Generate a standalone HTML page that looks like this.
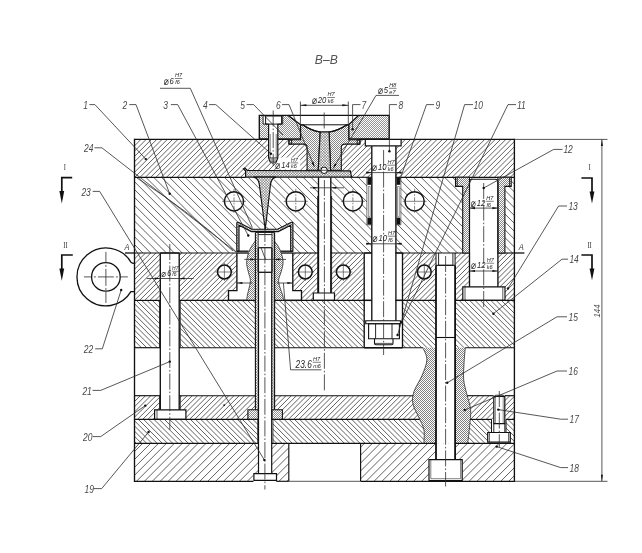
<!DOCTYPE html>
<html lang="en"><head><meta charset="utf-8"><title>B-B section</title>
<style>html,body{margin:0;padding:0;background:#fff}svg{display:block}</style></head>
<body>
<svg width="642" height="553" viewBox="0 0 642 553" font-family="'Liberation Sans', sans-serif">
<defs>
<filter id="gray" x="0" y="0" width="100%" height="100%" filterUnits="userSpaceOnUse"><feColorMatrix type="saturate" values="0"/></filter>
<clipPath id="c1"><path d="M134.5 139.4H514.4V177.3H134.5ZM288.9 139.4H359.9V144.1H288.9ZM307.1 144.1H341.3V170.9H307.1ZM245.6 170.7L350.5 170.9L351.5 177.3L245.6 177.3ZM276.4 157.6H300.2V169.4H276.4ZM268 139.4L278 139.4L278 160L273 163.4L268 160ZM365 139.4H401V146H365ZM371.5 146H395.5V177.3H371.5Z" clip-rule="evenodd"/></clipPath>
<clipPath id="c2"><path d="M134.5 177.3H514.4V253H134.5ZM224.4 201.3a9.6 9.6 0 1 0 19.2 0a9.6 9.6 0 1 0 -19.2 0ZM286.2 201.3a9.6 9.6 0 1 0 19.2 0a9.6 9.6 0 1 0 -19.2 0ZM343.3 201.3a9.6 9.6 0 1 0 19.2 0a9.6 9.6 0 1 0 -19.2 0ZM405 201.3a9.6 9.6 0 1 0 19.2 0a9.6 9.6 0 1 0 -19.2 0ZM253.5 177.3L259.4 185L265.2 225L270.4 185L276.2 177.3ZM236.9 253L236.9 222.2L253.4 229.2L276.2 229.2L292.8 222.2L292.8 253ZM318.5 177.3H330.8V253H318.5ZM367 177.3H400.3V224.7H367ZM371.5 224.7H395.5V253H371.5ZM455.5 177.3H511.2V186.4H455.5ZM462.7 186.4H504.9V253H462.7Z" clip-rule="evenodd"/></clipPath>
<clipPath id="c3"><path d="M134.5 253H514.4V300.4H134.5ZM160.3 253H179.2V300.4H160.3ZM217.6 272a6.8 6.8 0 1 0 13.6 0a6.8 6.8 0 1 0 -13.6 0ZM298.5 272a6.8 6.8 0 1 0 13.6 0a6.8 6.8 0 1 0 -13.6 0ZM336.5 272a6.8 6.8 0 1 0 13.6 0a6.8 6.8 0 1 0 -13.6 0ZM417.5 272a6.8 6.8 0 1 0 13.6 0a6.8 6.8 0 1 0 -13.6 0ZM236.9 253H292.8V290.6H236.9ZM228.5 290.6H301.5V300.4H228.5ZM318.5 253H330.8V293H318.5ZM313.3 293H334.5V300.4H313.3ZM364.2 253H402.7V300.4H364.2ZM436 253H455.1V300.4H436ZM469.5 253H497.9V286.8H469.5ZM462.8 286.8H505V300.4H462.8Z" clip-rule="evenodd"/></clipPath>
<clipPath id="c4"><path d="M134.5 300.4H514.4V347.7H134.5ZM159.5 300.4H180.3V347.7H159.5ZM255.4 300.4H274.6V347.7H255.4ZM364.2 300.4H402.3V347.7H364.2ZM436 300.4H455.1V347.7H436Z" clip-rule="evenodd"/></clipPath>
<clipPath id="c5"><path d="M134.5 395.7H514.4V419.4H134.5ZM159.5 395.7H180.3V409.8H159.5ZM154.6 409.8H185.9V419.4H154.6ZM255.4 395.7H274.6V409.8H255.4ZM247.9 409.8H282.4V419.4H247.9ZM493.6 395.7H504.8V419.4H493.6Z" clip-rule="evenodd"/></clipPath>
<clipPath id="c6"><path d="M134.5 419.4H514.4V443.3H134.5ZM258.2 419.4H272.6V443.3H258.2ZM491.5 419.4H506V432.5H491.5ZM487.7 432.5H510.3V443.3H487.7Z" clip-rule="evenodd"/></clipPath>
<clipPath id="c7"><path d="M134.5 443.3H514.4V481.3H134.5ZM259 443.3H271.7V474H259ZM253.4 474H276.2V481.3H253.4ZM288.8 443.3H360.6V481.3H288.8ZM436 443.3H455.1V459.8H436ZM429 459.8H462.2V481.3H429Z" clip-rule="evenodd"/></clipPath>
<clipPath id="c8"><path d="M422.9 347.7C423.57 349.73 427.07 355.22 426.9 359.9C426.73 364.58 424.07 370.5 421.9 375.8C419.73 381.1 415.4 387.05 413.9 391.7C412.4 396.35 412.07 399.38 412.9 403.7C413.73 408.02 417.07 413.28 418.9 417.6C420.73 421.92 423.07 425.32 423.9 429.6C424.73 433.88 423.9 441.02 423.9 443.3L467.7 443.3C468.03 440.35 469.22 431.2 469.7 425.6C470.18 420 471.1 415.02 470.6 409.7C470.1 404.38 467.85 398.68 466.7 393.7C465.55 388.72 464.15 384.77 463.7 379.8C463.25 374.83 463.73 369.25 464 363.9C464.27 358.55 465.08 350.4 465.3 347.7ZM436 347.7H455.1V443.3H436Z" clip-rule="evenodd"/></clipPath>
<clipPath id="c9"><path d="M259.3 115.4L288.1 115.4L300.6 124.8L300.6 137.8L299.6 139L259.3 139ZM263.1 115.4H282.7V124.1H263.1ZM268.6 124.1H277.8V139H268.6Z" clip-rule="evenodd"/></clipPath>
<clipPath id="c10"><path d="M389.2 115.4L358.5 115.4L348.7 124.8L348.7 137.8L349.7 139L389.2 139Z" clip-rule="evenodd"/></clipPath>
<clipPath id="c11"><path d="M300.6 124.8 L302.6 124.8 Q311.5 130.8 320.2 132 L318.2 170.3 L307.1 170.3 L307.1 147.5 Q307.1 144.1 303.5 144.1 L288.9 144.1 L288.9 139.8 L300.6 139.8 Z" clip-rule="evenodd"/></clipPath>
<clipPath id="c12"><path d="M348.7 124.8 L347 124.8 Q338 130.8 329.1 132 L330.6 170.3 L341.3 170.3 L341.3 147.5 Q341.3 144.1 344.9 144.1 L359.9 144.1 L359.9 139.8 L348.7 139.8 Z" clip-rule="evenodd"/></clipPath>
<clipPath id="c13"><path d="M320.2 132L329.1 132L330.6 170.9L318.2 170.9Z" clip-rule="evenodd"/></clipPath>
<clipPath id="c14"><path d="M320.2 132L329.1 132L330.6 170.9L318.2 170.9Z" clip-rule="evenodd"/></clipPath>
<clipPath id="c15"><path d="M245.6 171.0 L243.4 168.8 L244.8 168.0 L247.4 170.5 L350.3 170.9 L351.6 177.1 L245.6 177.1 Z" clip-rule="evenodd"/></clipPath>
<clipPath id="c16"><path d="M245.6 171.0 L243.4 168.8 L244.8 168.0 L247.4 170.5 L350.3 170.9 L351.6 177.1 L245.6 177.1 Z" clip-rule="evenodd"/></clipPath>
<clipPath id="c17"><path d="M253.5 177.1 Q258.6 178 259.4 185 L264.6 225 L265.8 225 L270.4 185 Q271.2 178 276.2 177.1 Z" clip-rule="evenodd"/></clipPath>
<clipPath id="c18"><path d="M253.5 177.1 Q258.6 178 259.4 185 L264.6 225 L265.8 225 L270.4 185 Q271.2 178 276.2 177.1 Z" clip-rule="evenodd"/></clipPath>
<clipPath id="c19"><path d="M236.8 251.2 L236.8 223.4 Q236.8 222.1 238.3 222.3 L252 229.2 L277.6 229.2 L291.3 222.3 Q292.9 222.1 292.9 223.4 L292.9 251.2 L290.7 251.2 L290.7 225.3 L278.3 231.6 L251.4 231.6 L239.0 225.3 L239.0 251.2 Z" clip-rule="evenodd"/></clipPath>
<clipPath id="c20"><path d="M236.8 251.2 L236.8 223.4 Q236.8 222.1 238.3 222.3 L252 229.2 L277.6 229.2 L291.3 222.3 Q292.9 222.1 292.9 223.4 L292.9 251.2 L290.7 251.2 L290.7 225.3 L278.3 231.6 L251.4 231.6 L239.0 225.3 L239.0 251.2 Z" clip-rule="evenodd"/></clipPath>
<clipPath id="c21"><path d="M255.4 240.9C254.57 242.13 251.73 245.63 250.4 248.3C249.07 250.97 248.02 254.23 247.4 256.9C246.78 259.57 246.5 261.63 246.7 264.3C246.9 266.97 247.98 270.25 248.6 272.9C249.22 275.55 250.3 277.75 250.4 280.2C250.5 282.65 249.7 285.13 249.2 287.6C248.7 290.07 247.82 292.87 247.4 295C246.98 297.13 246.82 299.5 246.7 300.4L283.6 300.4C283.43 299.5 283.2 297.13 282.6 295C282 292.87 280.67 290.07 280 287.6C279.33 285.13 278.47 282.65 278.6 280.2C278.73 277.75 280.07 275.55 280.8 272.9C281.53 270.25 282.73 266.95 283 264.3C283.27 261.65 283.02 259.67 282.4 257C281.78 254.33 280.63 250.97 279.3 248.3C277.97 245.63 275.22 242.22 274.4 241ZM255.4 241H274.4V300.4H255.4Z" clip-rule="evenodd"/></clipPath>
<clipPath id="c22"><path d="M255.4 232.4H258.3V409.8H255.4Z" clip-rule="evenodd"/></clipPath>
<clipPath id="c23"><path d="M255.4 232.4H258.3V409.8H255.4Z" clip-rule="evenodd"/></clipPath>
<clipPath id="c24"><path d="M271.9 232.4H274.6V409.8H271.9Z" clip-rule="evenodd"/></clipPath>
<clipPath id="c25"><path d="M271.9 232.4H274.6V409.8H271.9Z" clip-rule="evenodd"/></clipPath>
<clipPath id="c26"><path d="M247.9 409.8H258.3V419.4H247.9Z" clip-rule="evenodd"/></clipPath>
<clipPath id="c27"><path d="M271.9 409.8H282.4V419.4H271.9Z" clip-rule="evenodd"/></clipPath>
<clipPath id="c28"><path d="M455.5 177.3L469.5 177.3L469.5 253L462.7 253L462.7 186.4L455.5 186.4Z" clip-rule="evenodd"/></clipPath>
<clipPath id="c29"><path d="M511.2 177.3L497.9 177.3L497.9 253L504.9 253L504.9 186.4L511.2 186.4Z" clip-rule="evenodd"/></clipPath>
</defs>
<path d="M96.74 178.3l39.9 -39.9M102.03 178.3l39.9 -39.9M107.31 178.3l39.9 -39.9M112.6 178.3l39.9 -39.9M117.89 178.3l39.9 -39.9M123.18 178.3l39.9 -39.9M128.47 178.3l39.9 -39.9M133.76 178.3l39.9 -39.9M139.05 178.3l39.9 -39.9M144.34 178.3l39.9 -39.9M149.63 178.3l39.9 -39.9M154.92 178.3l39.9 -39.9M160.21 178.3l39.9 -39.9M165.5 178.3l39.9 -39.9M170.78 178.3l39.9 -39.9M176.07 178.3l39.9 -39.9M181.36 178.3l39.9 -39.9M186.65 178.3l39.9 -39.9M191.94 178.3l39.9 -39.9M197.23 178.3l39.9 -39.9M202.52 178.3l39.9 -39.9M207.81 178.3l39.9 -39.9M213.1 178.3l39.9 -39.9M218.39 178.3l39.9 -39.9M223.68 178.3l39.9 -39.9M228.97 178.3l39.9 -39.9M234.25 178.3l39.9 -39.9M239.54 178.3l39.9 -39.9M244.83 178.3l39.9 -39.9M250.12 178.3l39.9 -39.9M255.41 178.3l39.9 -39.9M260.7 178.3l39.9 -39.9M265.99 178.3l39.9 -39.9M271.28 178.3l39.9 -39.9M276.57 178.3l39.9 -39.9M281.86 178.3l39.9 -39.9M287.15 178.3l39.9 -39.9M292.44 178.3l39.9 -39.9M297.72 178.3l39.9 -39.9M303.01 178.3l39.9 -39.9M308.3 178.3l39.9 -39.9M313.59 178.3l39.9 -39.9M318.88 178.3l39.9 -39.9M324.17 178.3l39.9 -39.9M329.46 178.3l39.9 -39.9M334.75 178.3l39.9 -39.9M340.04 178.3l39.9 -39.9M345.33 178.3l39.9 -39.9M350.62 178.3l39.9 -39.9M355.91 178.3l39.9 -39.9M361.19 178.3l39.9 -39.9M366.48 178.3l39.9 -39.9M371.77 178.3l39.9 -39.9M377.06 178.3l39.9 -39.9M382.35 178.3l39.9 -39.9M387.64 178.3l39.9 -39.9M392.93 178.3l39.9 -39.9M398.22 178.3l39.9 -39.9M403.51 178.3l39.9 -39.9M408.8 178.3l39.9 -39.9M414.09 178.3l39.9 -39.9M419.37 178.3l39.9 -39.9M424.66 178.3l39.9 -39.9M429.95 178.3l39.9 -39.9M435.24 178.3l39.9 -39.9M440.53 178.3l39.9 -39.9M445.82 178.3l39.9 -39.9M451.11 178.3l39.9 -39.9M456.4 178.3l39.9 -39.9M461.69 178.3l39.9 -39.9M466.98 178.3l39.9 -39.9M472.27 178.3l39.9 -39.9M477.56 178.3l39.9 -39.9M482.84 178.3l39.9 -39.9M488.13 178.3l39.9 -39.9M493.42 178.3l39.9 -39.9M498.71 178.3l39.9 -39.9M504 178.3l39.9 -39.9M509.29 178.3l39.9 -39.9M514.58 178.3l39.9 -39.9" fill="none" stroke="#242424" stroke-width="0.72" clip-path="url(#c1)"/>
<path d="M58.35 176.3l77.7 77.7M66.22 176.3l77.7 77.7M74.08 176.3l77.7 77.7M81.94 176.3l77.7 77.7M89.81 176.3l77.7 77.7M97.67 176.3l77.7 77.7M105.53 176.3l77.7 77.7M113.4 176.3l77.7 77.7M121.26 176.3l77.7 77.7M129.12 176.3l77.7 77.7M136.98 176.3l77.7 77.7M144.85 176.3l77.7 77.7M152.71 176.3l77.7 77.7M160.57 176.3l77.7 77.7M168.44 176.3l77.7 77.7M176.3 176.3l77.7 77.7M184.16 176.3l77.7 77.7M192.03 176.3l77.7 77.7M199.89 176.3l77.7 77.7M207.75 176.3l77.7 77.7M215.62 176.3l77.7 77.7M223.48 176.3l77.7 77.7M231.34 176.3l77.7 77.7M239.2 176.3l77.7 77.7M247.07 176.3l77.7 77.7M254.93 176.3l77.7 77.7M262.79 176.3l77.7 77.7M270.66 176.3l77.7 77.7M278.52 176.3l77.7 77.7M286.38 176.3l77.7 77.7M294.25 176.3l77.7 77.7M302.11 176.3l77.7 77.7M309.97 176.3l77.7 77.7M317.83 176.3l77.7 77.7M325.7 176.3l77.7 77.7M333.56 176.3l77.7 77.7M341.42 176.3l77.7 77.7M349.29 176.3l77.7 77.7M357.15 176.3l77.7 77.7M365.01 176.3l77.7 77.7M372.88 176.3l77.7 77.7M380.74 176.3l77.7 77.7M388.6 176.3l77.7 77.7M396.46 176.3l77.7 77.7M404.33 176.3l77.7 77.7M412.19 176.3l77.7 77.7M420.05 176.3l77.7 77.7M427.92 176.3l77.7 77.7M435.78 176.3l77.7 77.7M443.64 176.3l77.7 77.7M451.51 176.3l77.7 77.7M459.37 176.3l77.7 77.7M467.23 176.3l77.7 77.7M475.1 176.3l77.7 77.7M482.96 176.3l77.7 77.7M490.82 176.3l77.7 77.7M498.68 176.3l77.7 77.7M506.55 176.3l77.7 77.7M514.41 176.3l77.7 77.7" fill="none" stroke="#242424" stroke-width="0.72" clip-path="url(#c2)"/>
<path d="M86.8 301.4l49.4 -49.4M91.98 301.4l49.4 -49.4M97.15 301.4l49.4 -49.4M102.33 301.4l49.4 -49.4M107.51 301.4l49.4 -49.4M112.68 301.4l49.4 -49.4M117.86 301.4l49.4 -49.4M123.03 301.4l49.4 -49.4M128.21 301.4l49.4 -49.4M133.39 301.4l49.4 -49.4M138.56 301.4l49.4 -49.4M143.74 301.4l49.4 -49.4M148.91 301.4l49.4 -49.4M154.09 301.4l49.4 -49.4M159.27 301.4l49.4 -49.4M164.44 301.4l49.4 -49.4M169.62 301.4l49.4 -49.4M174.79 301.4l49.4 -49.4M179.97 301.4l49.4 -49.4M185.15 301.4l49.4 -49.4M190.32 301.4l49.4 -49.4M195.5 301.4l49.4 -49.4M200.67 301.4l49.4 -49.4M205.85 301.4l49.4 -49.4M211.03 301.4l49.4 -49.4M216.2 301.4l49.4 -49.4M221.38 301.4l49.4 -49.4M226.55 301.4l49.4 -49.4M231.73 301.4l49.4 -49.4M236.91 301.4l49.4 -49.4M242.08 301.4l49.4 -49.4M247.26 301.4l49.4 -49.4M252.43 301.4l49.4 -49.4M257.61 301.4l49.4 -49.4M262.79 301.4l49.4 -49.4M267.96 301.4l49.4 -49.4M273.14 301.4l49.4 -49.4M278.31 301.4l49.4 -49.4M283.49 301.4l49.4 -49.4M288.67 301.4l49.4 -49.4M293.84 301.4l49.4 -49.4M299.02 301.4l49.4 -49.4M304.19 301.4l49.4 -49.4M309.37 301.4l49.4 -49.4M314.55 301.4l49.4 -49.4M319.72 301.4l49.4 -49.4M324.9 301.4l49.4 -49.4M330.07 301.4l49.4 -49.4M335.25 301.4l49.4 -49.4M340.43 301.4l49.4 -49.4M345.6 301.4l49.4 -49.4M350.78 301.4l49.4 -49.4M355.95 301.4l49.4 -49.4M361.13 301.4l49.4 -49.4M366.31 301.4l49.4 -49.4M371.48 301.4l49.4 -49.4M376.66 301.4l49.4 -49.4M381.83 301.4l49.4 -49.4M387.01 301.4l49.4 -49.4M392.19 301.4l49.4 -49.4M397.36 301.4l49.4 -49.4M402.54 301.4l49.4 -49.4M407.71 301.4l49.4 -49.4M412.89 301.4l49.4 -49.4M418.07 301.4l49.4 -49.4M423.24 301.4l49.4 -49.4M428.42 301.4l49.4 -49.4M433.6 301.4l49.4 -49.4M438.77 301.4l49.4 -49.4M443.95 301.4l49.4 -49.4M449.12 301.4l49.4 -49.4M454.3 301.4l49.4 -49.4M459.48 301.4l49.4 -49.4M464.65 301.4l49.4 -49.4M469.83 301.4l49.4 -49.4M475 301.4l49.4 -49.4M480.18 301.4l49.4 -49.4M485.36 301.4l49.4 -49.4M490.53 301.4l49.4 -49.4M495.71 301.4l49.4 -49.4M500.88 301.4l49.4 -49.4M506.06 301.4l49.4 -49.4M511.24 301.4l49.4 -49.4" fill="none" stroke="#242424" stroke-width="0.72" clip-path="url(#c3)"/>
<path d="M87.83 299.4l49.3 49.3M93.12 299.4l49.3 49.3M98.41 299.4l49.3 49.3M103.7 299.4l49.3 49.3M108.99 299.4l49.3 49.3M114.28 299.4l49.3 49.3M119.57 299.4l49.3 49.3M124.86 299.4l49.3 49.3M130.15 299.4l49.3 49.3M135.44 299.4l49.3 49.3M140.73 299.4l49.3 49.3M146.01 299.4l49.3 49.3M151.3 299.4l49.3 49.3M156.59 299.4l49.3 49.3M161.88 299.4l49.3 49.3M167.17 299.4l49.3 49.3M172.46 299.4l49.3 49.3M177.75 299.4l49.3 49.3M183.04 299.4l49.3 49.3M188.33 299.4l49.3 49.3M193.62 299.4l49.3 49.3M198.91 299.4l49.3 49.3M204.2 299.4l49.3 49.3M209.48 299.4l49.3 49.3M214.77 299.4l49.3 49.3M220.06 299.4l49.3 49.3M225.35 299.4l49.3 49.3M230.64 299.4l49.3 49.3M235.93 299.4l49.3 49.3M241.22 299.4l49.3 49.3M246.51 299.4l49.3 49.3M251.8 299.4l49.3 49.3M257.09 299.4l49.3 49.3M262.38 299.4l49.3 49.3M267.67 299.4l49.3 49.3M272.95 299.4l49.3 49.3M278.24 299.4l49.3 49.3M283.53 299.4l49.3 49.3M288.82 299.4l49.3 49.3M294.11 299.4l49.3 49.3M299.4 299.4l49.3 49.3M304.69 299.4l49.3 49.3M309.98 299.4l49.3 49.3M315.27 299.4l49.3 49.3M320.56 299.4l49.3 49.3M325.85 299.4l49.3 49.3M331.13 299.4l49.3 49.3M336.42 299.4l49.3 49.3M341.71 299.4l49.3 49.3M347 299.4l49.3 49.3M352.29 299.4l49.3 49.3M357.58 299.4l49.3 49.3M362.87 299.4l49.3 49.3M368.16 299.4l49.3 49.3M373.45 299.4l49.3 49.3M378.74 299.4l49.3 49.3M384.03 299.4l49.3 49.3M389.32 299.4l49.3 49.3M394.6 299.4l49.3 49.3M399.89 299.4l49.3 49.3M405.18 299.4l49.3 49.3M410.47 299.4l49.3 49.3M415.76 299.4l49.3 49.3M421.05 299.4l49.3 49.3M426.34 299.4l49.3 49.3M431.63 299.4l49.3 49.3M436.92 299.4l49.3 49.3M442.21 299.4l49.3 49.3M447.5 299.4l49.3 49.3M452.79 299.4l49.3 49.3M458.07 299.4l49.3 49.3M463.36 299.4l49.3 49.3M468.65 299.4l49.3 49.3M473.94 299.4l49.3 49.3M479.23 299.4l49.3 49.3M484.52 299.4l49.3 49.3M489.81 299.4l49.3 49.3M495.1 299.4l49.3 49.3M500.39 299.4l49.3 49.3M505.68 299.4l49.3 49.3M510.97 299.4l49.3 49.3" fill="none" stroke="#242424" stroke-width="0.72" clip-path="url(#c4)"/>
<path d="M110.44 420.4l25.7 -25.7M115.64 420.4l25.7 -25.7M120.85 420.4l25.7 -25.7M126.05 420.4l25.7 -25.7M131.26 420.4l25.7 -25.7M136.46 420.4l25.7 -25.7M141.67 420.4l25.7 -25.7M146.87 420.4l25.7 -25.7M152.07 420.4l25.7 -25.7M157.28 420.4l25.7 -25.7M162.48 420.4l25.7 -25.7M167.69 420.4l25.7 -25.7M172.89 420.4l25.7 -25.7M178.1 420.4l25.7 -25.7M183.3 420.4l25.7 -25.7M188.5 420.4l25.7 -25.7M193.71 420.4l25.7 -25.7M198.91 420.4l25.7 -25.7M204.12 420.4l25.7 -25.7M209.32 420.4l25.7 -25.7M214.53 420.4l25.7 -25.7M219.73 420.4l25.7 -25.7M224.93 420.4l25.7 -25.7M230.14 420.4l25.7 -25.7M235.34 420.4l25.7 -25.7M240.55 420.4l25.7 -25.7M245.75 420.4l25.7 -25.7M250.96 420.4l25.7 -25.7M256.16 420.4l25.7 -25.7M261.36 420.4l25.7 -25.7M266.57 420.4l25.7 -25.7M271.77 420.4l25.7 -25.7M276.98 420.4l25.7 -25.7M282.18 420.4l25.7 -25.7M287.39 420.4l25.7 -25.7M292.59 420.4l25.7 -25.7M297.79 420.4l25.7 -25.7M303 420.4l25.7 -25.7M308.2 420.4l25.7 -25.7M313.41 420.4l25.7 -25.7M318.61 420.4l25.7 -25.7M323.82 420.4l25.7 -25.7M329.02 420.4l25.7 -25.7M334.22 420.4l25.7 -25.7M339.43 420.4l25.7 -25.7M344.63 420.4l25.7 -25.7M349.84 420.4l25.7 -25.7M355.04 420.4l25.7 -25.7M360.25 420.4l25.7 -25.7M365.45 420.4l25.7 -25.7M370.65 420.4l25.7 -25.7M375.86 420.4l25.7 -25.7M381.06 420.4l25.7 -25.7M386.27 420.4l25.7 -25.7M391.47 420.4l25.7 -25.7M396.68 420.4l25.7 -25.7M401.88 420.4l25.7 -25.7M407.08 420.4l25.7 -25.7M412.29 420.4l25.7 -25.7M417.49 420.4l25.7 -25.7M422.7 420.4l25.7 -25.7M427.9 420.4l25.7 -25.7M433.11 420.4l25.7 -25.7M438.31 420.4l25.7 -25.7M443.51 420.4l25.7 -25.7M448.72 420.4l25.7 -25.7M453.92 420.4l25.7 -25.7M459.13 420.4l25.7 -25.7M464.33 420.4l25.7 -25.7M469.54 420.4l25.7 -25.7M474.74 420.4l25.7 -25.7M479.94 420.4l25.7 -25.7M485.15 420.4l25.7 -25.7M490.35 420.4l25.7 -25.7M495.56 420.4l25.7 -25.7M500.76 420.4l25.7 -25.7M505.97 420.4l25.7 -25.7M511.17 420.4l25.7 -25.7" fill="none" stroke="#242424" stroke-width="0.72" clip-path="url(#c5)"/>
<path d="M111.35 418.4l25.9 25.9M116.55 418.4l25.9 25.9M121.75 418.4l25.9 25.9M126.96 418.4l25.9 25.9M132.16 418.4l25.9 25.9M137.37 418.4l25.9 25.9M142.57 418.4l25.9 25.9M147.78 418.4l25.9 25.9M152.98 418.4l25.9 25.9M158.18 418.4l25.9 25.9M163.39 418.4l25.9 25.9M168.59 418.4l25.9 25.9M173.8 418.4l25.9 25.9M179 418.4l25.9 25.9M184.21 418.4l25.9 25.9M189.41 418.4l25.9 25.9M194.61 418.4l25.9 25.9M199.82 418.4l25.9 25.9M205.02 418.4l25.9 25.9M210.23 418.4l25.9 25.9M215.43 418.4l25.9 25.9M220.64 418.4l25.9 25.9M225.84 418.4l25.9 25.9M231.04 418.4l25.9 25.9M236.25 418.4l25.9 25.9M241.45 418.4l25.9 25.9M246.66 418.4l25.9 25.9M251.86 418.4l25.9 25.9M257.07 418.4l25.9 25.9M262.27 418.4l25.9 25.9M267.48 418.4l25.9 25.9M272.68 418.4l25.9 25.9M277.88 418.4l25.9 25.9M283.09 418.4l25.9 25.9M288.29 418.4l25.9 25.9M293.5 418.4l25.9 25.9M298.7 418.4l25.9 25.9M303.91 418.4l25.9 25.9M309.11 418.4l25.9 25.9M314.31 418.4l25.9 25.9M319.52 418.4l25.9 25.9M324.72 418.4l25.9 25.9M329.93 418.4l25.9 25.9M335.13 418.4l25.9 25.9M340.34 418.4l25.9 25.9M345.54 418.4l25.9 25.9M350.74 418.4l25.9 25.9M355.95 418.4l25.9 25.9M361.15 418.4l25.9 25.9M366.36 418.4l25.9 25.9M371.56 418.4l25.9 25.9M376.77 418.4l25.9 25.9M381.97 418.4l25.9 25.9M387.17 418.4l25.9 25.9M392.38 418.4l25.9 25.9M397.58 418.4l25.9 25.9M402.79 418.4l25.9 25.9M407.99 418.4l25.9 25.9M413.2 418.4l25.9 25.9M418.4 418.4l25.9 25.9M423.6 418.4l25.9 25.9M428.81 418.4l25.9 25.9M434.01 418.4l25.9 25.9M439.22 418.4l25.9 25.9M444.42 418.4l25.9 25.9M449.63 418.4l25.9 25.9M454.83 418.4l25.9 25.9M460.03 418.4l25.9 25.9M465.24 418.4l25.9 25.9M470.44 418.4l25.9 25.9M475.65 418.4l25.9 25.9M480.85 418.4l25.9 25.9M486.06 418.4l25.9 25.9M491.26 418.4l25.9 25.9M496.46 418.4l25.9 25.9M501.67 418.4l25.9 25.9M506.87 418.4l25.9 25.9M512.08 418.4l25.9 25.9" fill="none" stroke="#242424" stroke-width="0.72" clip-path="url(#c6)"/>
<path d="M95.83 482.3l40 -40M103.75 482.3l40 -40M111.67 482.3l40 -40M119.59 482.3l40 -40M127.51 482.3l40 -40M135.43 482.3l40 -40M143.35 482.3l40 -40M151.27 482.3l40 -40M159.19 482.3l40 -40M167.11 482.3l40 -40M175.03 482.3l40 -40M182.95 482.3l40 -40M190.87 482.3l40 -40M198.79 482.3l40 -40M206.7 482.3l40 -40M214.62 482.3l40 -40M222.54 482.3l40 -40M230.46 482.3l40 -40M238.38 482.3l40 -40M246.3 482.3l40 -40M254.22 482.3l40 -40M262.14 482.3l40 -40M270.06 482.3l40 -40M277.98 482.3l40 -40M285.9 482.3l40 -40M293.82 482.3l40 -40M301.74 482.3l40 -40M309.66 482.3l40 -40M317.58 482.3l40 -40M325.5 482.3l40 -40M333.42 482.3l40 -40M341.34 482.3l40 -40M349.26 482.3l40 -40M357.18 482.3l40 -40M365.1 482.3l40 -40M373.02 482.3l40 -40M380.94 482.3l40 -40M388.86 482.3l40 -40M396.78 482.3l40 -40M404.69 482.3l40 -40M412.61 482.3l40 -40M420.53 482.3l40 -40M428.45 482.3l40 -40M436.37 482.3l40 -40M444.29 482.3l40 -40M452.21 482.3l40 -40M460.13 482.3l40 -40M468.05 482.3l40 -40M475.97 482.3l40 -40M483.89 482.3l40 -40M491.81 482.3l40 -40M499.73 482.3l40 -40M507.65 482.3l40 -40" fill="none" stroke="#242424" stroke-width="0.72" clip-path="url(#c7)"/>
<path d="M422.9 347.7C423.57 349.73 427.07 355.22 426.9 359.9C426.73 364.58 424.07 370.5 421.9 375.8C419.73 381.1 415.4 387.05 413.9 391.7C412.4 396.35 412.07 399.38 412.9 403.7C413.73 408.02 417.07 413.28 418.9 417.6C420.73 421.92 423.07 425.32 423.9 429.6C424.73 433.88 423.9 441.02 423.9 443.3L467.7 443.3C468.03 440.35 469.22 431.2 469.7 425.6C470.18 420 471.1 415.02 470.6 409.7C470.1 404.38 467.85 398.68 466.7 393.7C465.55 388.72 464.15 384.77 463.7 379.8C463.25 374.83 463.73 369.25 464 363.9C464.27 358.55 465.08 350.4 465.3 347.7Z" fill="#fff" stroke="none"/>
<path d="M314.7 346.7l97.6 97.6M316.7 346.7l97.6 97.6M318.7 346.7l97.6 97.6M320.7 346.7l97.6 97.6M322.7 346.7l97.6 97.6M324.7 346.7l97.6 97.6M326.7 346.7l97.6 97.6M328.7 346.7l97.6 97.6M330.7 346.7l97.6 97.6M332.7 346.7l97.6 97.6M334.7 346.7l97.6 97.6M336.7 346.7l97.6 97.6M338.7 346.7l97.6 97.6M340.7 346.7l97.6 97.6M342.7 346.7l97.6 97.6M344.7 346.7l97.6 97.6M346.7 346.7l97.6 97.6M348.7 346.7l97.6 97.6M350.7 346.7l97.6 97.6M352.7 346.7l97.6 97.6M354.7 346.7l97.6 97.6M356.7 346.7l97.6 97.6M358.7 346.7l97.6 97.6M360.7 346.7l97.6 97.6M362.7 346.7l97.6 97.6M364.7 346.7l97.6 97.6M366.7 346.7l97.6 97.6M368.7 346.7l97.6 97.6M370.7 346.7l97.6 97.6M372.7 346.7l97.6 97.6M374.7 346.7l97.6 97.6M376.7 346.7l97.6 97.6M378.7 346.7l97.6 97.6M380.7 346.7l97.6 97.6M382.7 346.7l97.6 97.6M384.7 346.7l97.6 97.6M386.7 346.7l97.6 97.6M388.7 346.7l97.6 97.6M390.7 346.7l97.6 97.6M392.7 346.7l97.6 97.6M394.7 346.7l97.6 97.6M396.7 346.7l97.6 97.6M398.7 346.7l97.6 97.6M400.7 346.7l97.6 97.6M402.7 346.7l97.6 97.6M404.7 346.7l97.6 97.6M406.7 346.7l97.6 97.6M408.7 346.7l97.6 97.6M410.7 346.7l97.6 97.6M412.7 346.7l97.6 97.6M414.7 346.7l97.6 97.6M416.7 346.7l97.6 97.6M418.7 346.7l97.6 97.6M420.7 346.7l97.6 97.6M422.7 346.7l97.6 97.6M424.7 346.7l97.6 97.6M426.7 346.7l97.6 97.6M428.7 346.7l97.6 97.6M430.7 346.7l97.6 97.6M432.7 346.7l97.6 97.6M434.7 346.7l97.6 97.6M436.7 346.7l97.6 97.6M438.7 346.7l97.6 97.6M440.7 346.7l97.6 97.6M442.7 346.7l97.6 97.6M444.7 346.7l97.6 97.6M446.7 346.7l97.6 97.6M448.7 346.7l97.6 97.6M450.7 346.7l97.6 97.6M452.7 346.7l97.6 97.6M454.7 346.7l97.6 97.6M456.7 346.7l97.6 97.6M458.7 346.7l97.6 97.6M460.7 346.7l97.6 97.6M462.7 346.7l97.6 97.6M464.7 346.7l97.6 97.6M466.7 346.7l97.6 97.6M468.7 346.7l97.6 97.6M470.7 346.7l97.6 97.6" fill="none" stroke="#242424" stroke-width="0.58" clip-path="url(#c8)"/>
<path d="M422.9 347.7C423.57 349.73 427.07 355.22 426.9 359.9C426.73 364.58 424.07 370.5 421.9 375.8C419.73 381.1 415.4 387.05 413.9 391.7C412.4 396.35 412.07 399.38 412.9 403.7C413.73 408.02 417.07 413.28 418.9 417.6C420.73 421.92 423.07 425.32 423.9 429.6C424.73 433.88 423.9 441.02 423.9 443.3" fill="none" stroke="#2c2c2c" stroke-width="0.8"/>
<path d="M465.3 347.7C465.08 350.4 464.27 358.55 464 363.9C463.73 369.25 463.25 374.83 463.7 379.8C464.15 384.77 465.55 388.72 466.7 393.7C467.85 398.68 470.1 404.38 470.6 409.7C471.1 415.02 470.18 420 469.7 425.6C469.22 431.2 468.03 440.35 467.7 443.3" fill="none" stroke="#2c2c2c" stroke-width="0.8"/>
<path d="M134.5 139.4L134.5 481.3" fill="none" stroke="#111" stroke-width="1.35" stroke-linecap="square"/>
<path d="M514.4 139.4L514.4 481.3" fill="none" stroke="#111" stroke-width="1.35" stroke-linecap="square"/>
<line x1="134.5" y1="139.4" x2="268" y2="139.4" stroke="#111" stroke-width="1.15"/>
<line x1="278" y1="139.4" x2="288.9" y2="139.4" stroke="#111" stroke-width="1.15"/>
<line x1="359.9" y1="139.4" x2="365" y2="139.4" stroke="#111" stroke-width="1.15"/>
<line x1="401" y1="139.4" x2="514.4" y2="139.4" stroke="#111" stroke-width="1.15"/>
<line x1="134.5" y1="177.3" x2="245.4" y2="177.3" stroke="#111" stroke-width="1.15"/>
<line x1="351.5" y1="177.3" x2="371.5" y2="177.3" stroke="#111" stroke-width="1.15"/>
<line x1="395.5" y1="177.3" x2="514.4" y2="177.3" stroke="#111" stroke-width="1.15"/>
<line x1="134.5" y1="253" x2="236.9" y2="253" stroke="#111" stroke-width="1.15"/>
<line x1="292.8" y1="253" x2="318.5" y2="253" stroke="#111" stroke-width="1.15"/>
<line x1="330.8" y1="253" x2="371.5" y2="253" stroke="#111" stroke-width="1.15"/>
<line x1="395.5" y1="253" x2="469.5" y2="253" stroke="#111" stroke-width="1.15"/>
<line x1="497.9" y1="253" x2="514.4" y2="253" stroke="#111" stroke-width="1.15"/>
<line x1="134.5" y1="300.4" x2="160.3" y2="300.4" stroke="#111" stroke-width="1.15"/>
<line x1="179.2" y1="300.4" x2="255.4" y2="300.4" stroke="#111" stroke-width="1.15"/>
<line x1="274.6" y1="300.4" x2="371.5" y2="300.4" stroke="#111" stroke-width="1.15"/>
<line x1="395.5" y1="300.4" x2="436" y2="300.4" stroke="#111" stroke-width="1.15"/>
<line x1="455.1" y1="300.4" x2="514.4" y2="300.4" stroke="#111" stroke-width="1.15"/>
<line x1="134.5" y1="347.7" x2="160.3" y2="347.7" stroke="#111" stroke-width="1.15"/>
<line x1="179.2" y1="347.7" x2="255.4" y2="347.7" stroke="#111" stroke-width="1.15"/>
<line x1="274.6" y1="347.7" x2="422.9" y2="347.7" stroke="#111" stroke-width="1.15"/>
<line x1="465.3" y1="347.7" x2="514.4" y2="347.7" stroke="#111" stroke-width="1.15"/>
<line x1="134.5" y1="395.7" x2="160.3" y2="395.7" stroke="#111" stroke-width="1.15"/>
<line x1="179.2" y1="395.7" x2="255.4" y2="395.7" stroke="#111" stroke-width="1.15"/>
<line x1="274.6" y1="395.7" x2="413.3" y2="395.7" stroke="#111" stroke-width="1.15"/>
<line x1="467.3" y1="395.7" x2="493.6" y2="395.7" stroke="#111" stroke-width="1.15"/>
<line x1="504.8" y1="395.7" x2="514.4" y2="395.7" stroke="#111" stroke-width="1.15"/>
<line x1="134.5" y1="419.4" x2="258.2" y2="419.4" stroke="#111" stroke-width="1.15"/>
<line x1="272.6" y1="419.4" x2="419.6" y2="419.4" stroke="#111" stroke-width="1.15"/>
<line x1="470.2" y1="419.4" x2="491.5" y2="419.4" stroke="#111" stroke-width="1.15"/>
<line x1="506" y1="419.4" x2="514.4" y2="419.4" stroke="#111" stroke-width="1.15"/>
<line x1="134.5" y1="443.3" x2="259" y2="443.3" stroke="#111" stroke-width="1.15"/>
<line x1="271.7" y1="443.3" x2="436" y2="443.3" stroke="#111" stroke-width="1.15"/>
<line x1="455.1" y1="443.3" x2="514.4" y2="443.3" stroke="#111" stroke-width="1.15"/>
<line x1="134.5" y1="481.3" x2="253.4" y2="481.3" stroke="#111" stroke-width="1.15"/>
<line x1="276.2" y1="481.3" x2="288.8" y2="481.3" stroke="#111" stroke-width="1.15"/>
<line x1="360.6" y1="481.3" x2="514.4" y2="481.3" stroke="#111" stroke-width="1.15"/>
<line x1="288.8" y1="481.3" x2="360.6" y2="481.3" stroke="#2c2c2c" stroke-width="0.8"/>
<line x1="288.8" y1="443.3" x2="288.8" y2="481.3" stroke="#111" stroke-width="1.15"/>
<line x1="360.6" y1="443.3" x2="360.6" y2="481.3" stroke="#111" stroke-width="1.15"/>
<path d="M234 140l25.6 -25.6M236 140l25.6 -25.6M238 140l25.6 -25.6M240 140l25.6 -25.6M242 140l25.6 -25.6M244 140l25.6 -25.6M246 140l25.6 -25.6M248 140l25.6 -25.6M250 140l25.6 -25.6M252 140l25.6 -25.6M254 140l25.6 -25.6M256 140l25.6 -25.6M258 140l25.6 -25.6M260 140l25.6 -25.6M262 140l25.6 -25.6M264 140l25.6 -25.6M266 140l25.6 -25.6M268 140l25.6 -25.6M270 140l25.6 -25.6M272 140l25.6 -25.6M274 140l25.6 -25.6M276 140l25.6 -25.6M278 140l25.6 -25.6M280 140l25.6 -25.6M282 140l25.6 -25.6M284 140l25.6 -25.6M286 140l25.6 -25.6M288 140l25.6 -25.6M290 140l25.6 -25.6M292 140l25.6 -25.6M294 140l25.6 -25.6M296 140l25.6 -25.6M298 140l25.6 -25.6M300 140l25.6 -25.6" fill="none" stroke="#242424" stroke-width="0.5" clip-path="url(#c9)"/>
<path d="M324 140l25.6 -25.6M326 140l25.6 -25.6M328 140l25.6 -25.6M330 140l25.6 -25.6M332 140l25.6 -25.6M334 140l25.6 -25.6M336 140l25.6 -25.6M338 140l25.6 -25.6M340 140l25.6 -25.6M342 140l25.6 -25.6M344 140l25.6 -25.6M346 140l25.6 -25.6M348 140l25.6 -25.6M350 140l25.6 -25.6M352 140l25.6 -25.6M354 140l25.6 -25.6M356 140l25.6 -25.6M358 140l25.6 -25.6M360 140l25.6 -25.6M362 140l25.6 -25.6M364 140l25.6 -25.6M366 140l25.6 -25.6M368 140l25.6 -25.6M370 140l25.6 -25.6M372 140l25.6 -25.6M374 140l25.6 -25.6M376 140l25.6 -25.6M378 140l25.6 -25.6M380 140l25.6 -25.6M382 140l25.6 -25.6M384 140l25.6 -25.6M386 140l25.6 -25.6M388 140l25.6 -25.6M390 140l25.6 -25.6" fill="none" stroke="#242424" stroke-width="0.5" clip-path="url(#c10)"/>
<path d="M259.3 139L259.3 115.4L389.2 115.4L389.2 139" fill="none" stroke="#111" stroke-width="1.35"/>
<line x1="259.3" y1="139" x2="268.6" y2="139" stroke="#111" stroke-width="1.35"/>
<line x1="277.8" y1="139" x2="299.6" y2="139" stroke="#111" stroke-width="1.35"/>
<line x1="349.7" y1="139" x2="389.2" y2="139" stroke="#111" stroke-width="1.35"/>
<path d="M288.1 115.4L300.6 124.8L300.6 137.8L299.6 139" fill="none" stroke="#111" stroke-width="1.35"/>
<path d="M358.5 115.4L348.7 124.8L348.7 137.8L349.7 139" fill="none" stroke="#111" stroke-width="1.35"/>
<path d="M263.1 115.4L263.1 124.1L268.6 124.1" fill="none" stroke="#111" stroke-width="0.9"/>
<path d="M282.7 115.4L282.7 124.1L277.8 124.1" fill="none" stroke="#111" stroke-width="0.9"/>
<path d="M265.6 116H281.6V124.1H265.6Z" fill="none" stroke="#111" stroke-width="1"/>
<path d="M268.6 124.1L268.6 158L270.2 162L276.2 162L277.8 158L277.8 124.1" fill="none" stroke="#111" stroke-width="1.2"/>
<line x1="268.6" y1="158" x2="277.8" y2="158" stroke="#111" stroke-width="0.9"/>
<line x1="270.2" y1="160" x2="276.2" y2="160" stroke="#2c2c2c" stroke-width="0.8"/>
<line x1="270.2" y1="134" x2="270.2" y2="158" stroke="#2c2c2c" stroke-width="0.6"/>
<line x1="276.2" y1="134" x2="276.2" y2="158" stroke="#2c2c2c" stroke-width="0.6"/>
<path d="M270.2 162L273.2 164L276.2 162" fill="none" stroke="#2c2c2c" stroke-width="0.6"/>
<line x1="273.2" y1="110.5" x2="273.2" y2="166" stroke="#2c2c2c" stroke-width="0.8" stroke-dasharray="16 2 1.6 2"/>
<path d="M300.6 124.8 L302.6 124.8 Q311.5 130.8 320.2 132 L318.2 170.3 L307.1 170.3 L307.1 147.5 Q307.1 144.1 303.5 144.1 L288.9 144.1 L288.9 139.8 L300.6 139.8 Z" fill="#fff" stroke="none"/>
<path d="M348.7 124.8 L347 124.8 Q338 130.8 329.1 132 L330.6 170.3 L341.3 170.3 L341.3 147.5 Q341.3 144.1 344.9 144.1 L359.9 144.1 L359.9 139.8 L348.7 139.8 Z" fill="#fff" stroke="none"/>
<path d="M241.8 123.8l47.5 47.5M243.8 123.8l47.5 47.5M245.8 123.8l47.5 47.5M247.8 123.8l47.5 47.5M249.8 123.8l47.5 47.5M251.8 123.8l47.5 47.5M253.8 123.8l47.5 47.5M255.8 123.8l47.5 47.5M257.8 123.8l47.5 47.5M259.8 123.8l47.5 47.5M261.8 123.8l47.5 47.5M263.8 123.8l47.5 47.5M265.8 123.8l47.5 47.5M267.8 123.8l47.5 47.5M269.8 123.8l47.5 47.5M271.8 123.8l47.5 47.5M273.8 123.8l47.5 47.5M275.8 123.8l47.5 47.5M277.8 123.8l47.5 47.5M279.8 123.8l47.5 47.5M281.8 123.8l47.5 47.5M283.8 123.8l47.5 47.5M285.8 123.8l47.5 47.5M287.8 123.8l47.5 47.5M289.8 123.8l47.5 47.5M291.8 123.8l47.5 47.5M293.8 123.8l47.5 47.5M295.8 123.8l47.5 47.5M297.8 123.8l47.5 47.5M299.8 123.8l47.5 47.5M301.8 123.8l47.5 47.5M303.8 123.8l47.5 47.5M305.8 123.8l47.5 47.5M307.8 123.8l47.5 47.5M309.8 123.8l47.5 47.5M311.8 123.8l47.5 47.5M313.8 123.8l47.5 47.5M315.8 123.8l47.5 47.5M317.8 123.8l47.5 47.5M319.8 123.8l47.5 47.5" fill="none" stroke="#242424" stroke-width="0.55" clip-path="url(#c11)"/>
<path d="M281.8 123.8l47.5 47.5M283.8 123.8l47.5 47.5M285.8 123.8l47.5 47.5M287.8 123.8l47.5 47.5M289.8 123.8l47.5 47.5M291.8 123.8l47.5 47.5M293.8 123.8l47.5 47.5M295.8 123.8l47.5 47.5M297.8 123.8l47.5 47.5M299.8 123.8l47.5 47.5M301.8 123.8l47.5 47.5M303.8 123.8l47.5 47.5M305.8 123.8l47.5 47.5M307.8 123.8l47.5 47.5M309.8 123.8l47.5 47.5M311.8 123.8l47.5 47.5M313.8 123.8l47.5 47.5M315.8 123.8l47.5 47.5M317.8 123.8l47.5 47.5M319.8 123.8l47.5 47.5M321.8 123.8l47.5 47.5M323.8 123.8l47.5 47.5M325.8 123.8l47.5 47.5M327.8 123.8l47.5 47.5M329.8 123.8l47.5 47.5M331.8 123.8l47.5 47.5M333.8 123.8l47.5 47.5M335.8 123.8l47.5 47.5M337.8 123.8l47.5 47.5M339.8 123.8l47.5 47.5M341.8 123.8l47.5 47.5M343.8 123.8l47.5 47.5M345.8 123.8l47.5 47.5M347.8 123.8l47.5 47.5M349.8 123.8l47.5 47.5M351.8 123.8l47.5 47.5M353.8 123.8l47.5 47.5M355.8 123.8l47.5 47.5M357.8 123.8l47.5 47.5M359.8 123.8l47.5 47.5" fill="none" stroke="#242424" stroke-width="0.55" clip-path="url(#c12)"/>
<path d="M300.6 124.8 L302.6 124.8 Q311.5 130.8 320.2 132 L318.2 170.3 L307.1 170.3 L307.1 147.5 Q307.1 144.1 303.5 144.1 L288.9 144.1 L288.9 139.8 L300.6 139.8 Z" fill="none" stroke="#111" stroke-width="1.1"/>
<path d="M348.7 124.8 L347 124.8 Q338 130.8 329.1 132 L330.6 170.3 L341.3 170.3 L341.3 147.5 Q341.3 144.1 344.9 144.1 L359.9 144.1 L359.9 139.8 L348.7 139.8 Z" fill="none" stroke="#111" stroke-width="1.1"/>
<line x1="300.6" y1="124.8" x2="348.7" y2="124.8" stroke="#111" stroke-width="1"/>
<path d="M302.6 124.8 Q311.5 130.8 320.2 132 L329.1 132 Q338 130.8 347 124.8" fill="none" stroke="#111" stroke-width="1.2"/>
<path d="M288.9 139.8H291.6V144.1H288.9Z" fill="none" stroke="#111" stroke-width="0.9"/>
<path d="M357.2 139.8H359.9V144.1H357.2Z" fill="none" stroke="#111" stroke-width="0.9"/>
<line x1="324.2" y1="112.5" x2="324.2" y2="129" stroke="#2c2c2c" stroke-width="0.8" stroke-dasharray="16 2 1.6 2"/>
<path d="M320.2 132L329.1 132L330.6 170.9L318.2 170.9Z" fill="#fff" stroke="none"/>
<path d="M276.83 171.9l40.9 -40.9M279.52 171.9l40.9 -40.9M282.2 171.9l40.9 -40.9M284.89 171.9l40.9 -40.9M287.58 171.9l40.9 -40.9M290.26 171.9l40.9 -40.9M292.95 171.9l40.9 -40.9M295.64 171.9l40.9 -40.9M298.33 171.9l40.9 -40.9M301.01 171.9l40.9 -40.9M303.7 171.9l40.9 -40.9M306.39 171.9l40.9 -40.9M309.07 171.9l40.9 -40.9M311.76 171.9l40.9 -40.9M314.45 171.9l40.9 -40.9M317.14 171.9l40.9 -40.9M319.82 171.9l40.9 -40.9M322.51 171.9l40.9 -40.9M325.2 171.9l40.9 -40.9M327.88 171.9l40.9 -40.9M330.57 171.9l40.9 -40.9" fill="none" stroke="#2a2a2a" stroke-width="0.45" clip-path="url(#c13)"/>
<path d="M278.79 131l40.9 40.9M281.47 131l40.9 40.9M284.16 131l40.9 40.9M286.85 131l40.9 40.9M289.53 131l40.9 40.9M292.22 131l40.9 40.9M294.91 131l40.9 40.9M297.59 131l40.9 40.9M300.28 131l40.9 40.9M302.97 131l40.9 40.9M305.66 131l40.9 40.9M308.34 131l40.9 40.9M311.03 131l40.9 40.9M313.72 131l40.9 40.9M316.4 131l40.9 40.9M319.09 131l40.9 40.9M321.78 131l40.9 40.9M324.46 131l40.9 40.9M327.15 131l40.9 40.9M329.84 131l40.9 40.9" fill="none" stroke="#2a2a2a" stroke-width="0.45" clip-path="url(#c14)"/>
<path d="M320.2 132L329.1 132L330.6 170.9L318.2 170.9Z" fill="none" stroke="#111" stroke-width="1.15"/>
<path d="M245.6 171.0 L243.4 168.8 L244.8 168.0 L247.4 170.5 L350.3 170.9 L351.6 177.1 L245.6 177.1 Z" fill="#fff" stroke="none"/>
<path d="M233.01 178.1l11.1 -11.1M235.7 178.1l11.1 -11.1M238.39 178.1l11.1 -11.1M241.07 178.1l11.1 -11.1M243.76 178.1l11.1 -11.1M246.45 178.1l11.1 -11.1M249.13 178.1l11.1 -11.1M251.82 178.1l11.1 -11.1M254.51 178.1l11.1 -11.1M257.19 178.1l11.1 -11.1M259.88 178.1l11.1 -11.1M262.57 178.1l11.1 -11.1M265.26 178.1l11.1 -11.1M267.94 178.1l11.1 -11.1M270.63 178.1l11.1 -11.1M273.32 178.1l11.1 -11.1M276 178.1l11.1 -11.1M278.69 178.1l11.1 -11.1M281.38 178.1l11.1 -11.1M284.06 178.1l11.1 -11.1M286.75 178.1l11.1 -11.1M289.44 178.1l11.1 -11.1M292.13 178.1l11.1 -11.1M294.81 178.1l11.1 -11.1M297.5 178.1l11.1 -11.1M300.19 178.1l11.1 -11.1M302.87 178.1l11.1 -11.1M305.56 178.1l11.1 -11.1M308.25 178.1l11.1 -11.1M310.94 178.1l11.1 -11.1M313.62 178.1l11.1 -11.1M316.31 178.1l11.1 -11.1M319 178.1l11.1 -11.1M321.68 178.1l11.1 -11.1M324.37 178.1l11.1 -11.1M327.06 178.1l11.1 -11.1M329.74 178.1l11.1 -11.1M332.43 178.1l11.1 -11.1M335.12 178.1l11.1 -11.1M337.81 178.1l11.1 -11.1M340.49 178.1l11.1 -11.1M343.18 178.1l11.1 -11.1M345.87 178.1l11.1 -11.1M348.55 178.1l11.1 -11.1M351.24 178.1l11.1 -11.1" fill="none" stroke="#2a2a2a" stroke-width="0.45" clip-path="url(#c15)"/>
<path d="M231.49 167l11.1 11.1M234.18 167l11.1 11.1M236.86 167l11.1 11.1M239.55 167l11.1 11.1M242.24 167l11.1 11.1M244.92 167l11.1 11.1M247.61 167l11.1 11.1M250.3 167l11.1 11.1M252.98 167l11.1 11.1M255.67 167l11.1 11.1M258.36 167l11.1 11.1M261.05 167l11.1 11.1M263.73 167l11.1 11.1M266.42 167l11.1 11.1M269.11 167l11.1 11.1M271.79 167l11.1 11.1M274.48 167l11.1 11.1M277.17 167l11.1 11.1M279.85 167l11.1 11.1M282.54 167l11.1 11.1M285.23 167l11.1 11.1M287.92 167l11.1 11.1M290.6 167l11.1 11.1M293.29 167l11.1 11.1M295.98 167l11.1 11.1M298.66 167l11.1 11.1M301.35 167l11.1 11.1M304.04 167l11.1 11.1M306.72 167l11.1 11.1M309.41 167l11.1 11.1M312.1 167l11.1 11.1M314.79 167l11.1 11.1M317.47 167l11.1 11.1M320.16 167l11.1 11.1M322.85 167l11.1 11.1M325.53 167l11.1 11.1M328.22 167l11.1 11.1M330.91 167l11.1 11.1M333.59 167l11.1 11.1M336.28 167l11.1 11.1M338.97 167l11.1 11.1M341.66 167l11.1 11.1M344.34 167l11.1 11.1M347.03 167l11.1 11.1M349.72 167l11.1 11.1M352.4 167l11.1 11.1" fill="none" stroke="#2a2a2a" stroke-width="0.45" clip-path="url(#c16)"/>
<path d="M245.6 171.0 L243.4 168.8 L244.8 168.0 L247.4 170.5 L350.3 170.9 L351.6 177.1 L245.6 177.1 Z" fill="none" stroke="#111" stroke-width="1.15"/>
<path d="M253.5 177.1 Q258.6 178 259.4 185 L264.6 225 L265.8 225 L270.4 185 Q271.2 178 276.2 177.1 Z" fill="#fff" stroke="none"/>
<path d="M203.92 226l49.9 -49.9M206.61 226l49.9 -49.9M209.29 226l49.9 -49.9M211.98 226l49.9 -49.9M214.67 226l49.9 -49.9M217.36 226l49.9 -49.9M220.04 226l49.9 -49.9M222.73 226l49.9 -49.9M225.42 226l49.9 -49.9M228.1 226l49.9 -49.9M230.79 226l49.9 -49.9M233.48 226l49.9 -49.9M236.16 226l49.9 -49.9M238.85 226l49.9 -49.9M241.54 226l49.9 -49.9M244.23 226l49.9 -49.9M246.91 226l49.9 -49.9M249.6 226l49.9 -49.9M252.29 226l49.9 -49.9M254.97 226l49.9 -49.9M257.66 226l49.9 -49.9M260.35 226l49.9 -49.9M263.04 226l49.9 -49.9M265.72 226l49.9 -49.9M268.41 226l49.9 -49.9M271.1 226l49.9 -49.9M273.78 226l49.9 -49.9M276.47 226l49.9 -49.9" fill="none" stroke="#2a2a2a" stroke-width="0.45" clip-path="url(#c17)"/>
<path d="M202.97 176.1l49.9 49.9M205.66 176.1l49.9 49.9M208.34 176.1l49.9 49.9M211.03 176.1l49.9 49.9M213.72 176.1l49.9 49.9M216.41 176.1l49.9 49.9M219.09 176.1l49.9 49.9M221.78 176.1l49.9 49.9M224.47 176.1l49.9 49.9M227.15 176.1l49.9 49.9M229.84 176.1l49.9 49.9M232.53 176.1l49.9 49.9M235.21 176.1l49.9 49.9M237.9 176.1l49.9 49.9M240.59 176.1l49.9 49.9M243.28 176.1l49.9 49.9M245.96 176.1l49.9 49.9M248.65 176.1l49.9 49.9M251.34 176.1l49.9 49.9M254.02 176.1l49.9 49.9M256.71 176.1l49.9 49.9M259.4 176.1l49.9 49.9M262.08 176.1l49.9 49.9M264.77 176.1l49.9 49.9M267.46 176.1l49.9 49.9M270.15 176.1l49.9 49.9M272.83 176.1l49.9 49.9M275.52 176.1l49.9 49.9" fill="none" stroke="#2a2a2a" stroke-width="0.45" clip-path="url(#c18)"/>
<path d="M253.5 177.1 Q258.6 178 259.4 185 L264.6 225 L265.8 225 L270.4 185 Q271.2 178 276.2 177.1 Z" fill="none" stroke="#111" stroke-width="1.15"/>
<path d="M236.8 251.2 L236.8 223.4 Q236.8 222.1 238.3 222.3 L252 229.2 L277.6 229.2 L291.3 222.3 Q292.9 222.1 292.9 223.4 L292.9 251.2 L290.7 251.2 L290.7 225.3 L278.3 231.6 L251.4 231.6 L239.0 225.3 L239.0 251.2 Z" fill="#fff" stroke="none"/>
<path d="M207.28 252.2l31.1 -31.1M209.96 252.2l31.1 -31.1M212.65 252.2l31.1 -31.1M215.34 252.2l31.1 -31.1M218.03 252.2l31.1 -31.1M220.71 252.2l31.1 -31.1M223.4 252.2l31.1 -31.1M226.09 252.2l31.1 -31.1M228.77 252.2l31.1 -31.1M231.46 252.2l31.1 -31.1M234.15 252.2l31.1 -31.1M236.84 252.2l31.1 -31.1M239.52 252.2l31.1 -31.1M242.21 252.2l31.1 -31.1M244.9 252.2l31.1 -31.1M247.58 252.2l31.1 -31.1M250.27 252.2l31.1 -31.1M252.96 252.2l31.1 -31.1M255.64 252.2l31.1 -31.1M258.33 252.2l31.1 -31.1M261.02 252.2l31.1 -31.1M263.71 252.2l31.1 -31.1M266.39 252.2l31.1 -31.1M269.08 252.2l31.1 -31.1M271.77 252.2l31.1 -31.1M274.45 252.2l31.1 -31.1M277.14 252.2l31.1 -31.1M279.83 252.2l31.1 -31.1M282.51 252.2l31.1 -31.1M285.2 252.2l31.1 -31.1M287.89 252.2l31.1 -31.1M290.58 252.2l31.1 -31.1M293.26 252.2l31.1 -31.1" fill="none" stroke="#2a2a2a" stroke-width="0.45" clip-path="url(#c19)"/>
<path d="M204.98 221.1l31.1 31.1M207.66 221.1l31.1 31.1M210.35 221.1l31.1 31.1M213.04 221.1l31.1 31.1M215.73 221.1l31.1 31.1M218.41 221.1l31.1 31.1M221.1 221.1l31.1 31.1M223.79 221.1l31.1 31.1M226.47 221.1l31.1 31.1M229.16 221.1l31.1 31.1M231.85 221.1l31.1 31.1M234.54 221.1l31.1 31.1M237.22 221.1l31.1 31.1M239.91 221.1l31.1 31.1M242.6 221.1l31.1 31.1M245.28 221.1l31.1 31.1M247.97 221.1l31.1 31.1M250.66 221.1l31.1 31.1M253.34 221.1l31.1 31.1M256.03 221.1l31.1 31.1M258.72 221.1l31.1 31.1M261.41 221.1l31.1 31.1M264.09 221.1l31.1 31.1M266.78 221.1l31.1 31.1M269.47 221.1l31.1 31.1M272.15 221.1l31.1 31.1M274.84 221.1l31.1 31.1M277.53 221.1l31.1 31.1M280.21 221.1l31.1 31.1M282.9 221.1l31.1 31.1M285.59 221.1l31.1 31.1M288.28 221.1l31.1 31.1M290.96 221.1l31.1 31.1M293.65 221.1l31.1 31.1" fill="none" stroke="#2a2a2a" stroke-width="0.45" clip-path="url(#c20)"/>
<path d="M236.8 251.2 L236.8 223.4 Q236.8 222.1 238.3 222.3 L252 229.2 L277.6 229.2 L291.3 222.3 Q292.9 222.1 292.9 223.4 L292.9 251.2 L290.7 251.2 L290.7 225.3 L278.3 231.6 L251.4 231.6 L239.0 225.3 L239.0 251.2 Z" fill="none" stroke="#111" stroke-width="1.15"/>
<line x1="265.2" y1="224.5" x2="265.2" y2="229.2" stroke="#111" stroke-width="1.6"/>
<circle cx="324.1" cy="170.3" r="3.2" fill="#fff" stroke="#111" stroke-width="1"/>
<line x1="320.9" y1="170.3" x2="327.3" y2="170.3" stroke="#2c2c2c" stroke-width="0.8"/>
<circle cx="234" cy="201.3" r="9.6" fill="none" stroke="#111" stroke-width="1.5"/>
<line x1="222" y1="201.3" x2="246" y2="201.3" stroke="#2c2c2c" stroke-width="0.6"/>
<line x1="234" y1="188.8" x2="234" y2="213.8" stroke="#2c2c2c" stroke-width="0.6" stroke-dasharray="4 1.5 1.5 1.5"/>
<circle cx="295.8" cy="201.3" r="9.6" fill="none" stroke="#111" stroke-width="1.5"/>
<line x1="283.8" y1="201.3" x2="307.8" y2="201.3" stroke="#2c2c2c" stroke-width="0.6"/>
<line x1="295.8" y1="188.8" x2="295.8" y2="213.8" stroke="#2c2c2c" stroke-width="0.6" stroke-dasharray="4 1.5 1.5 1.5"/>
<circle cx="352.9" cy="201.3" r="9.6" fill="none" stroke="#111" stroke-width="1.5"/>
<line x1="340.9" y1="201.3" x2="364.9" y2="201.3" stroke="#2c2c2c" stroke-width="0.6"/>
<line x1="352.9" y1="188.8" x2="352.9" y2="213.8" stroke="#2c2c2c" stroke-width="0.6" stroke-dasharray="4 1.5 1.5 1.5"/>
<circle cx="414.6" cy="201.3" r="9.6" fill="none" stroke="#111" stroke-width="1.5"/>
<line x1="402.6" y1="201.3" x2="426.6" y2="201.3" stroke="#2c2c2c" stroke-width="0.6"/>
<line x1="414.6" y1="188.8" x2="414.6" y2="213.8" stroke="#2c2c2c" stroke-width="0.6" stroke-dasharray="4 1.5 1.5 1.5"/>
<circle cx="224.4" cy="272" r="6.9" fill="none" stroke="#111" stroke-width="1.5"/>
<line x1="215.4" y1="272" x2="233.4" y2="272" stroke="#2c2c2c" stroke-width="0.6"/>
<line x1="224.4" y1="263" x2="224.4" y2="281" stroke="#2c2c2c" stroke-width="0.6"/>
<circle cx="305.3" cy="272" r="6.9" fill="none" stroke="#111" stroke-width="1.5"/>
<line x1="296.3" y1="272" x2="314.3" y2="272" stroke="#2c2c2c" stroke-width="0.6"/>
<line x1="305.3" y1="263" x2="305.3" y2="281" stroke="#2c2c2c" stroke-width="0.6"/>
<circle cx="343.3" cy="272" r="6.9" fill="none" stroke="#111" stroke-width="1.5"/>
<line x1="334.3" y1="272" x2="352.3" y2="272" stroke="#2c2c2c" stroke-width="0.6"/>
<line x1="343.3" y1="263" x2="343.3" y2="281" stroke="#2c2c2c" stroke-width="0.6"/>
<circle cx="424.3" cy="272" r="6.9" fill="none" stroke="#111" stroke-width="1.5"/>
<line x1="415.3" y1="272" x2="433.3" y2="272" stroke="#2c2c2c" stroke-width="0.6"/>
<line x1="424.3" y1="263" x2="424.3" y2="281" stroke="#2c2c2c" stroke-width="0.6"/>
<path d="M185.9 239.9l61.5 61.5M187.9 239.9l61.5 61.5M189.9 239.9l61.5 61.5M191.9 239.9l61.5 61.5M193.9 239.9l61.5 61.5M195.9 239.9l61.5 61.5M197.9 239.9l61.5 61.5M199.9 239.9l61.5 61.5M201.9 239.9l61.5 61.5M203.9 239.9l61.5 61.5M205.9 239.9l61.5 61.5M207.9 239.9l61.5 61.5M209.9 239.9l61.5 61.5M211.9 239.9l61.5 61.5M213.9 239.9l61.5 61.5M215.9 239.9l61.5 61.5M217.9 239.9l61.5 61.5M219.9 239.9l61.5 61.5M221.9 239.9l61.5 61.5M223.9 239.9l61.5 61.5M225.9 239.9l61.5 61.5M227.9 239.9l61.5 61.5M229.9 239.9l61.5 61.5M231.9 239.9l61.5 61.5M233.9 239.9l61.5 61.5M235.9 239.9l61.5 61.5M237.9 239.9l61.5 61.5M239.9 239.9l61.5 61.5M241.9 239.9l61.5 61.5M243.9 239.9l61.5 61.5M245.9 239.9l61.5 61.5M247.9 239.9l61.5 61.5M249.9 239.9l61.5 61.5M251.9 239.9l61.5 61.5M253.9 239.9l61.5 61.5M255.9 239.9l61.5 61.5M257.9 239.9l61.5 61.5M259.9 239.9l61.5 61.5M261.9 239.9l61.5 61.5M263.9 239.9l61.5 61.5M265.9 239.9l61.5 61.5M267.9 239.9l61.5 61.5M269.9 239.9l61.5 61.5M271.9 239.9l61.5 61.5M273.9 239.9l61.5 61.5M275.9 239.9l61.5 61.5M277.9 239.9l61.5 61.5M279.9 239.9l61.5 61.5M281.9 239.9l61.5 61.5M283.9 239.9l61.5 61.5" fill="none" stroke="#242424" stroke-width="0.58" clip-path="url(#c21)"/>
<path d="M255.4 240.9C254.57 242.13 251.73 245.63 250.4 248.3C249.07 250.97 248.02 254.23 247.4 256.9C246.78 259.57 246.5 261.63 246.7 264.3C246.9 266.97 247.98 270.25 248.6 272.9C249.22 275.55 250.3 277.75 250.4 280.2C250.5 282.65 249.7 285.13 249.2 287.6C248.7 290.07 247.82 292.87 247.4 295C246.98 297.13 246.82 299.5 246.7 300.4" fill="none" stroke="#2c2c2c" stroke-width="0.8"/>
<path d="M274.4 241C275.22 242.22 277.97 245.63 279.3 248.3C280.63 250.97 281.78 254.33 282.4 257C283.02 259.67 283.27 261.65 283 264.3C282.73 266.95 281.53 270.25 280.8 272.9C280.07 275.55 278.73 277.75 278.6 280.2C278.47 282.65 279.33 285.13 280 287.6C280.67 290.07 282 292.87 282.6 295C283.2 297.13 283.43 299.5 283.6 300.4" fill="none" stroke="#2c2c2c" stroke-width="0.8"/>
<path d="M236.9 253L236.9 290.6L228.5 290.6L228.5 300.4" fill="none" stroke="#111" stroke-width="1.35"/>
<path d="M292.8 253L292.8 290.6L301.5 290.6L301.5 300.4" fill="none" stroke="#111" stroke-width="1.35"/>
<line x1="236.8" y1="251.2" x2="248.6" y2="251.2" stroke="#111" stroke-width="1.35"/>
<line x1="280.8" y1="251.2" x2="292.9" y2="251.2" stroke="#111" stroke-width="1.35"/>
<line x1="236.9" y1="253" x2="248.2" y2="253" stroke="#111" stroke-width="1.35"/>
<line x1="281.4" y1="253" x2="292.8" y2="253" stroke="#111" stroke-width="1.35"/>
<line x1="228.5" y1="300.4" x2="246.7" y2="300.4" stroke="#111" stroke-width="1.35"/>
<line x1="283.6" y1="300.4" x2="301.5" y2="300.4" stroke="#111" stroke-width="1.35"/>
<path d="M255.4 232.4H258.3V409.8H255.4Z" fill="#fff" stroke="none"/>
<path d="M75.55 410.8l179.4 -179.4M78.24 410.8l179.4 -179.4M80.92 410.8l179.4 -179.4M83.61 410.8l179.4 -179.4M86.3 410.8l179.4 -179.4M88.98 410.8l179.4 -179.4M91.67 410.8l179.4 -179.4M94.36 410.8l179.4 -179.4M97.04 410.8l179.4 -179.4M99.73 410.8l179.4 -179.4M102.42 410.8l179.4 -179.4M105.11 410.8l179.4 -179.4M107.79 410.8l179.4 -179.4M110.48 410.8l179.4 -179.4M113.17 410.8l179.4 -179.4M115.85 410.8l179.4 -179.4M118.54 410.8l179.4 -179.4M121.23 410.8l179.4 -179.4M123.91 410.8l179.4 -179.4M126.6 410.8l179.4 -179.4M129.29 410.8l179.4 -179.4M131.98 410.8l179.4 -179.4M134.66 410.8l179.4 -179.4M137.35 410.8l179.4 -179.4M140.04 410.8l179.4 -179.4M142.72 410.8l179.4 -179.4M145.41 410.8l179.4 -179.4M148.1 410.8l179.4 -179.4M150.78 410.8l179.4 -179.4M153.47 410.8l179.4 -179.4M156.16 410.8l179.4 -179.4M158.85 410.8l179.4 -179.4M161.53 410.8l179.4 -179.4M164.22 410.8l179.4 -179.4M166.91 410.8l179.4 -179.4M169.59 410.8l179.4 -179.4M172.28 410.8l179.4 -179.4M174.97 410.8l179.4 -179.4M177.65 410.8l179.4 -179.4M180.34 410.8l179.4 -179.4M183.03 410.8l179.4 -179.4M185.72 410.8l179.4 -179.4M188.4 410.8l179.4 -179.4M191.09 410.8l179.4 -179.4M193.78 410.8l179.4 -179.4M196.46 410.8l179.4 -179.4M199.15 410.8l179.4 -179.4M201.84 410.8l179.4 -179.4M204.52 410.8l179.4 -179.4M207.21 410.8l179.4 -179.4M209.9 410.8l179.4 -179.4M212.59 410.8l179.4 -179.4M215.27 410.8l179.4 -179.4M217.96 410.8l179.4 -179.4M220.65 410.8l179.4 -179.4M223.33 410.8l179.4 -179.4M226.02 410.8l179.4 -179.4M228.71 410.8l179.4 -179.4M231.39 410.8l179.4 -179.4M234.08 410.8l179.4 -179.4M236.77 410.8l179.4 -179.4M239.46 410.8l179.4 -179.4M242.14 410.8l179.4 -179.4M244.83 410.8l179.4 -179.4M247.52 410.8l179.4 -179.4M250.2 410.8l179.4 -179.4M252.89 410.8l179.4 -179.4M255.58 410.8l179.4 -179.4M258.26 410.8l179.4 -179.4" fill="none" stroke="#2a2a2a" stroke-width="0.45" clip-path="url(#c22)"/>
<path d="M75.55 231.4l179.4 179.4M78.24 231.4l179.4 179.4M80.93 231.4l179.4 179.4M83.61 231.4l179.4 179.4M86.3 231.4l179.4 179.4M88.99 231.4l179.4 179.4M91.68 231.4l179.4 179.4M94.36 231.4l179.4 179.4M97.05 231.4l179.4 179.4M99.74 231.4l179.4 179.4M102.42 231.4l179.4 179.4M105.11 231.4l179.4 179.4M107.8 231.4l179.4 179.4M110.48 231.4l179.4 179.4M113.17 231.4l179.4 179.4M115.86 231.4l179.4 179.4M118.55 231.4l179.4 179.4M121.23 231.4l179.4 179.4M123.92 231.4l179.4 179.4M126.61 231.4l179.4 179.4M129.29 231.4l179.4 179.4M131.98 231.4l179.4 179.4M134.67 231.4l179.4 179.4M137.35 231.4l179.4 179.4M140.04 231.4l179.4 179.4M142.73 231.4l179.4 179.4M145.42 231.4l179.4 179.4M148.1 231.4l179.4 179.4M150.79 231.4l179.4 179.4M153.48 231.4l179.4 179.4M156.16 231.4l179.4 179.4M158.85 231.4l179.4 179.4M161.54 231.4l179.4 179.4M164.22 231.4l179.4 179.4M166.91 231.4l179.4 179.4M169.6 231.4l179.4 179.4M172.29 231.4l179.4 179.4M174.97 231.4l179.4 179.4M177.66 231.4l179.4 179.4M180.35 231.4l179.4 179.4M183.03 231.4l179.4 179.4M185.72 231.4l179.4 179.4M188.41 231.4l179.4 179.4M191.09 231.4l179.4 179.4M193.78 231.4l179.4 179.4M196.47 231.4l179.4 179.4M199.16 231.4l179.4 179.4M201.84 231.4l179.4 179.4M204.53 231.4l179.4 179.4M207.22 231.4l179.4 179.4M209.9 231.4l179.4 179.4M212.59 231.4l179.4 179.4M215.28 231.4l179.4 179.4M217.96 231.4l179.4 179.4M220.65 231.4l179.4 179.4M223.34 231.4l179.4 179.4M226.03 231.4l179.4 179.4M228.71 231.4l179.4 179.4M231.4 231.4l179.4 179.4M234.09 231.4l179.4 179.4M236.77 231.4l179.4 179.4M239.46 231.4l179.4 179.4M242.15 231.4l179.4 179.4M244.84 231.4l179.4 179.4M247.52 231.4l179.4 179.4M250.21 231.4l179.4 179.4M252.9 231.4l179.4 179.4M255.58 231.4l179.4 179.4M258.27 231.4l179.4 179.4" fill="none" stroke="#2a2a2a" stroke-width="0.45" clip-path="url(#c23)"/>
<path d="M271.9 232.4H274.6V409.8H271.9Z" fill="#fff" stroke="none"/>
<path d="M91.67 410.8l179.4 -179.4M94.36 410.8l179.4 -179.4M97.04 410.8l179.4 -179.4M99.73 410.8l179.4 -179.4M102.42 410.8l179.4 -179.4M105.11 410.8l179.4 -179.4M107.79 410.8l179.4 -179.4M110.48 410.8l179.4 -179.4M113.17 410.8l179.4 -179.4M115.85 410.8l179.4 -179.4M118.54 410.8l179.4 -179.4M121.23 410.8l179.4 -179.4M123.91 410.8l179.4 -179.4M126.6 410.8l179.4 -179.4M129.29 410.8l179.4 -179.4M131.98 410.8l179.4 -179.4M134.66 410.8l179.4 -179.4M137.35 410.8l179.4 -179.4M140.04 410.8l179.4 -179.4M142.72 410.8l179.4 -179.4M145.41 410.8l179.4 -179.4M148.1 410.8l179.4 -179.4M150.78 410.8l179.4 -179.4M153.47 410.8l179.4 -179.4M156.16 410.8l179.4 -179.4M158.85 410.8l179.4 -179.4M161.53 410.8l179.4 -179.4M164.22 410.8l179.4 -179.4M166.91 410.8l179.4 -179.4M169.59 410.8l179.4 -179.4M172.28 410.8l179.4 -179.4M174.97 410.8l179.4 -179.4M177.65 410.8l179.4 -179.4M180.34 410.8l179.4 -179.4M183.03 410.8l179.4 -179.4M185.72 410.8l179.4 -179.4M188.4 410.8l179.4 -179.4M191.09 410.8l179.4 -179.4M193.78 410.8l179.4 -179.4M196.46 410.8l179.4 -179.4M199.15 410.8l179.4 -179.4M201.84 410.8l179.4 -179.4M204.52 410.8l179.4 -179.4M207.21 410.8l179.4 -179.4M209.9 410.8l179.4 -179.4M212.59 410.8l179.4 -179.4M215.27 410.8l179.4 -179.4M217.96 410.8l179.4 -179.4M220.65 410.8l179.4 -179.4M223.33 410.8l179.4 -179.4M226.02 410.8l179.4 -179.4M228.71 410.8l179.4 -179.4M231.39 410.8l179.4 -179.4M234.08 410.8l179.4 -179.4M236.77 410.8l179.4 -179.4M239.46 410.8l179.4 -179.4M242.14 410.8l179.4 -179.4M244.83 410.8l179.4 -179.4M247.52 410.8l179.4 -179.4M250.2 410.8l179.4 -179.4M252.89 410.8l179.4 -179.4M255.58 410.8l179.4 -179.4M258.26 410.8l179.4 -179.4M260.95 410.8l179.4 -179.4M263.64 410.8l179.4 -179.4M266.33 410.8l179.4 -179.4M269.01 410.8l179.4 -179.4M271.7 410.8l179.4 -179.4M274.39 410.8l179.4 -179.4" fill="none" stroke="#2a2a2a" stroke-width="0.45" clip-path="url(#c24)"/>
<path d="M91.68 231.4l179.4 179.4M94.36 231.4l179.4 179.4M97.05 231.4l179.4 179.4M99.74 231.4l179.4 179.4M102.42 231.4l179.4 179.4M105.11 231.4l179.4 179.4M107.8 231.4l179.4 179.4M110.48 231.4l179.4 179.4M113.17 231.4l179.4 179.4M115.86 231.4l179.4 179.4M118.55 231.4l179.4 179.4M121.23 231.4l179.4 179.4M123.92 231.4l179.4 179.4M126.61 231.4l179.4 179.4M129.29 231.4l179.4 179.4M131.98 231.4l179.4 179.4M134.67 231.4l179.4 179.4M137.35 231.4l179.4 179.4M140.04 231.4l179.4 179.4M142.73 231.4l179.4 179.4M145.42 231.4l179.4 179.4M148.1 231.4l179.4 179.4M150.79 231.4l179.4 179.4M153.48 231.4l179.4 179.4M156.16 231.4l179.4 179.4M158.85 231.4l179.4 179.4M161.54 231.4l179.4 179.4M164.22 231.4l179.4 179.4M166.91 231.4l179.4 179.4M169.6 231.4l179.4 179.4M172.29 231.4l179.4 179.4M174.97 231.4l179.4 179.4M177.66 231.4l179.4 179.4M180.35 231.4l179.4 179.4M183.03 231.4l179.4 179.4M185.72 231.4l179.4 179.4M188.41 231.4l179.4 179.4M191.09 231.4l179.4 179.4M193.78 231.4l179.4 179.4M196.47 231.4l179.4 179.4M199.16 231.4l179.4 179.4M201.84 231.4l179.4 179.4M204.53 231.4l179.4 179.4M207.22 231.4l179.4 179.4M209.9 231.4l179.4 179.4M212.59 231.4l179.4 179.4M215.28 231.4l179.4 179.4M217.96 231.4l179.4 179.4M220.65 231.4l179.4 179.4M223.34 231.4l179.4 179.4M226.03 231.4l179.4 179.4M228.71 231.4l179.4 179.4M231.4 231.4l179.4 179.4M234.09 231.4l179.4 179.4M236.77 231.4l179.4 179.4M239.46 231.4l179.4 179.4M242.15 231.4l179.4 179.4M244.84 231.4l179.4 179.4M247.52 231.4l179.4 179.4M250.21 231.4l179.4 179.4M252.9 231.4l179.4 179.4M255.58 231.4l179.4 179.4M258.27 231.4l179.4 179.4M260.96 231.4l179.4 179.4M263.64 231.4l179.4 179.4M266.33 231.4l179.4 179.4M269.02 231.4l179.4 179.4M271.71 231.4l179.4 179.4M274.39 231.4l179.4 179.4" fill="none" stroke="#2a2a2a" stroke-width="0.45" clip-path="url(#c25)"/>
<line x1="255.4" y1="232.4" x2="255.4" y2="409.8" stroke="#111" stroke-width="1.1"/>
<line x1="274.6" y1="232.4" x2="274.6" y2="409.8" stroke="#111" stroke-width="1.1"/>
<line x1="258.3" y1="232.4" x2="258.3" y2="247.7" stroke="#111" stroke-width="0.7"/>
<line x1="271.9" y1="232.4" x2="271.9" y2="247.7" stroke="#111" stroke-width="0.7"/>
<line x1="255.4" y1="232.4" x2="274.6" y2="232.4" stroke="#111" stroke-width="1"/>
<line x1="258.3" y1="234.6" x2="271.9" y2="234.6" stroke="#111" stroke-width="0.9"/>
<line x1="258.3" y1="247.7" x2="271.9" y2="247.7" stroke="#111" stroke-width="1.2"/>
<line x1="258.3" y1="272.3" x2="271.9" y2="272.3" stroke="#111" stroke-width="1.3"/>
<line x1="258.3" y1="247.7" x2="258.3" y2="272.3" stroke="#111" stroke-width="1.5"/>
<line x1="271.9" y1="247.7" x2="271.9" y2="272.3" stroke="#111" stroke-width="1.5"/>
<line x1="261" y1="247.7" x2="265.6" y2="259.6" stroke="#2c2c2c" stroke-width="0.8"/>
<path d="M247.9 409.8H258.3V419.4H247.9Z" fill="#fff" stroke="none"/>
<path d="M235.6 420.4l11.6 -11.6M237.6 420.4l11.6 -11.6M239.6 420.4l11.6 -11.6M241.6 420.4l11.6 -11.6M243.6 420.4l11.6 -11.6M245.6 420.4l11.6 -11.6M247.6 420.4l11.6 -11.6M249.6 420.4l11.6 -11.6M251.6 420.4l11.6 -11.6M253.6 420.4l11.6 -11.6M255.6 420.4l11.6 -11.6M257.6 420.4l11.6 -11.6" fill="none" stroke="#242424" stroke-width="0.5" clip-path="url(#c26)"/>
<path d="M247.9 409.8H258.3V419.4H247.9Z" fill="none" stroke="#111" stroke-width="1.1"/>
<path d="M271.9 409.8H282.4V419.4H271.9Z" fill="#fff" stroke="none"/>
<path d="M259.6 420.4l11.6 -11.6M261.6 420.4l11.6 -11.6M263.6 420.4l11.6 -11.6M265.6 420.4l11.6 -11.6M267.6 420.4l11.6 -11.6M269.6 420.4l11.6 -11.6M271.6 420.4l11.6 -11.6M273.6 420.4l11.6 -11.6M275.6 420.4l11.6 -11.6M277.6 420.4l11.6 -11.6M279.6 420.4l11.6 -11.6M281.6 420.4l11.6 -11.6" fill="none" stroke="#242424" stroke-width="0.5" clip-path="url(#c27)"/>
<path d="M271.9 409.8H282.4V419.4H271.9Z" fill="none" stroke="#111" stroke-width="1.1"/>
<line x1="258.5" y1="272.3" x2="258.5" y2="473.6" stroke="#111" stroke-width="1.2"/>
<line x1="271.7" y1="272.3" x2="271.7" y2="473.6" stroke="#111" stroke-width="1.2"/>
<line x1="257.6" y1="419.4" x2="257.6" y2="443.3" stroke="#111" stroke-width="0.7"/>
<line x1="273" y1="419.4" x2="273" y2="443.3" stroke="#111" stroke-width="0.7"/>
<path d="M253.9 473.6H276.5V480.4H253.9Z" fill="none" stroke="#111" stroke-width="1.2"/>
<line x1="264.9" y1="226" x2="264.9" y2="489.5" stroke="#2c2c2c" stroke-width="0.8" stroke-dasharray="16 2 1.6 2"/>
<line x1="160.3" y1="253" x2="160.3" y2="409.8" stroke="#111" stroke-width="1.35"/>
<line x1="179.2" y1="253" x2="179.2" y2="409.8" stroke="#111" stroke-width="1.35"/>
<line x1="160.3" y1="253" x2="179.2" y2="253" stroke="#111" stroke-width="1.35"/>
<line x1="159.5" y1="300.4" x2="159.5" y2="347.7" stroke="#111" stroke-width="0.8"/>
<line x1="180.3" y1="300.4" x2="180.3" y2="347.7" stroke="#111" stroke-width="0.8"/>
<line x1="159.5" y1="395.7" x2="159.5" y2="409.8" stroke="#111" stroke-width="0.8"/>
<line x1="180.3" y1="395.7" x2="180.3" y2="409.8" stroke="#111" stroke-width="0.8"/>
<path d="M154.6 409.8H185.9V419.4H154.6Z" fill="none" stroke="#111" stroke-width="1.2"/>
<line x1="157" y1="409.8" x2="157" y2="419.4" stroke="#111" stroke-width="0.7"/>
<line x1="169.8" y1="244" x2="169.8" y2="430" stroke="#2c2c2c" stroke-width="0.8" stroke-dasharray="16 2 1.6 2"/>
<line x1="318.5" y1="177.3" x2="318.5" y2="293" stroke="#111" stroke-width="1.35"/>
<line x1="330.8" y1="177.3" x2="330.8" y2="293" stroke="#111" stroke-width="1.35"/>
<line x1="317.7" y1="196" x2="317.7" y2="293" stroke="#111" stroke-width="0.9"/>
<line x1="331.6" y1="196" x2="331.6" y2="293" stroke="#111" stroke-width="0.9"/>
<path d="M313.3 293H334.5V300.4H313.3Z" fill="none" stroke="#111" stroke-width="1.2"/>
<line x1="324.4" y1="180" x2="324.4" y2="392" stroke="#2c2c2c" stroke-width="0.8" stroke-dasharray="16 2 1.6 2"/>
<path d="M365.3 139.4H401.1V145.9H365.3Z" fill="none" stroke="#111" stroke-width="1.2"/>
<line x1="371.8" y1="145.9" x2="371.8" y2="320.8" stroke="#111" stroke-width="1.35"/>
<line x1="395.9" y1="145.9" x2="395.9" y2="320.8" stroke="#111" stroke-width="1.35"/>
<rect x="367.4" y="177.8" width="3.8" height="7" fill="#111"/>
<rect x="367.4" y="217.6" width="3.8" height="7" fill="#111"/>
<path d="M366.8 177.6H371.8V224.9H366.8Z" fill="none" stroke="#2c2c2c" stroke-width="0.6"/>
<path d="M368.4 186.5H370.2V216.5H368.4Z" fill="none" stroke="#2c2c2c" stroke-width="0.5"/>
<rect x="396.5" y="177.8" width="3.8" height="7" fill="#111"/>
<rect x="396.5" y="217.6" width="3.8" height="7" fill="#111"/>
<path d="M395.9 177.6H400.9V224.9H395.9Z" fill="none" stroke="#2c2c2c" stroke-width="0.6"/>
<path d="M397.5 186.5H399.3V216.5H397.5Z" fill="none" stroke="#2c2c2c" stroke-width="0.5"/>
<line x1="364.2" y1="253" x2="364.2" y2="347.7" stroke="#111" stroke-width="1.35"/>
<line x1="402.5" y1="253" x2="402.5" y2="347.7" stroke="#111" stroke-width="1.35"/>
<line x1="364.2" y1="253" x2="371.8" y2="253" stroke="#111" stroke-width="1.35"/>
<line x1="395.9" y1="253" x2="402.5" y2="253" stroke="#111" stroke-width="1.35"/>
<line x1="364.2" y1="300.4" x2="371.8" y2="300.4" stroke="#111" stroke-width="1.35"/>
<line x1="395.9" y1="300.4" x2="402.5" y2="300.4" stroke="#111" stroke-width="1.35"/>
<line x1="364.2" y1="347.7" x2="402.5" y2="347.7" stroke="#111" stroke-width="1.35"/>
<path d="M365.7 320.8H400.4V323.7H365.7Z" fill="none" stroke="#111" stroke-width="1.1"/>
<path d="M368.6 323.7H399.4V338.7H368.6Z" fill="none" stroke="#111" stroke-width="1.1"/>
<line x1="375.6" y1="323.7" x2="375.6" y2="338.7" stroke="#111" stroke-width="0.9"/>
<line x1="392" y1="323.7" x2="392" y2="338.7" stroke="#111" stroke-width="0.9"/>
<path d="M374.5 338.7 V343.3 Q374.5 344.8 376 344.8 H391.5 Q393 344.8 393 343.3 V338.7" fill="none" stroke="#111" stroke-width="1.1"/>
<line x1="375" y1="343.4" x2="392.5" y2="343.4" stroke="#2c2c2c" stroke-width="0.8"/>
<line x1="383.6" y1="150" x2="383.6" y2="355" stroke="#2c2c2c" stroke-width="0.8" stroke-dasharray="16 2 1.6 2"/>
<path d="M455.5 177.3L469.5 177.3L469.5 253L462.7 253L462.7 186.4L455.5 186.4Z" fill="#fff" stroke="none"/>
<path d="M378 254l77.7 -77.7M380 254l77.7 -77.7M382 254l77.7 -77.7M384 254l77.7 -77.7M386 254l77.7 -77.7M388 254l77.7 -77.7M390 254l77.7 -77.7M392 254l77.7 -77.7M394 254l77.7 -77.7M396 254l77.7 -77.7M398 254l77.7 -77.7M400 254l77.7 -77.7M402 254l77.7 -77.7M404 254l77.7 -77.7M406 254l77.7 -77.7M408 254l77.7 -77.7M410 254l77.7 -77.7M412 254l77.7 -77.7M414 254l77.7 -77.7M416 254l77.7 -77.7M418 254l77.7 -77.7M420 254l77.7 -77.7M422 254l77.7 -77.7M424 254l77.7 -77.7M426 254l77.7 -77.7M428 254l77.7 -77.7M430 254l77.7 -77.7M432 254l77.7 -77.7M434 254l77.7 -77.7M436 254l77.7 -77.7M438 254l77.7 -77.7M440 254l77.7 -77.7M442 254l77.7 -77.7M444 254l77.7 -77.7M446 254l77.7 -77.7M448 254l77.7 -77.7M450 254l77.7 -77.7M452 254l77.7 -77.7M454 254l77.7 -77.7M456 254l77.7 -77.7M458 254l77.7 -77.7M460 254l77.7 -77.7M462 254l77.7 -77.7M464 254l77.7 -77.7M466 254l77.7 -77.7M468 254l77.7 -77.7M470 254l77.7 -77.7" fill="none" stroke="#242424" stroke-width="0.55" clip-path="url(#c28)"/>
<path d="M455.5 177.3L469.5 177.3L469.5 253L462.7 253L462.7 186.4L455.5 186.4Z" fill="none" stroke="#111" stroke-width="1.1"/>
<path d="M511.2 177.3L497.9 177.3L497.9 253L504.9 253L504.9 186.4L511.2 186.4Z" fill="#fff" stroke="none"/>
<path d="M420 254l77.7 -77.7M422 254l77.7 -77.7M424 254l77.7 -77.7M426 254l77.7 -77.7M428 254l77.7 -77.7M430 254l77.7 -77.7M432 254l77.7 -77.7M434 254l77.7 -77.7M436 254l77.7 -77.7M438 254l77.7 -77.7M440 254l77.7 -77.7M442 254l77.7 -77.7M444 254l77.7 -77.7M446 254l77.7 -77.7M448 254l77.7 -77.7M450 254l77.7 -77.7M452 254l77.7 -77.7M454 254l77.7 -77.7M456 254l77.7 -77.7M458 254l77.7 -77.7M460 254l77.7 -77.7M462 254l77.7 -77.7M464 254l77.7 -77.7M466 254l77.7 -77.7M468 254l77.7 -77.7M470 254l77.7 -77.7M472 254l77.7 -77.7M474 254l77.7 -77.7M476 254l77.7 -77.7M478 254l77.7 -77.7M480 254l77.7 -77.7M482 254l77.7 -77.7M484 254l77.7 -77.7M486 254l77.7 -77.7M488 254l77.7 -77.7M490 254l77.7 -77.7M492 254l77.7 -77.7M494 254l77.7 -77.7M496 254l77.7 -77.7M498 254l77.7 -77.7M500 254l77.7 -77.7M502 254l77.7 -77.7M504 254l77.7 -77.7M506 254l77.7 -77.7M508 254l77.7 -77.7M510 254l77.7 -77.7M512 254l77.7 -77.7" fill="none" stroke="#242424" stroke-width="0.55" clip-path="url(#c29)"/>
<path d="M511.2 177.3L497.9 177.3L497.9 253L504.9 253L504.9 186.4L511.2 186.4Z" fill="none" stroke="#111" stroke-width="1.1"/>
<path d="M469.5 253 V182 Q469.5 179.2 472.3 179.2 H495.1 Q497.9 179.2 497.9 182 V253" fill="none" stroke="#111" stroke-width="1.1"/>
<line x1="457.2" y1="177.3" x2="457.2" y2="186.4" stroke="#111" stroke-width="0.8"/>
<line x1="509.5" y1="177.3" x2="509.5" y2="186.4" stroke="#111" stroke-width="0.8"/>
<line x1="469.5" y1="253" x2="469.5" y2="286.8" stroke="#111" stroke-width="1.35"/>
<line x1="497.9" y1="253" x2="497.9" y2="286.8" stroke="#111" stroke-width="1.35"/>
<path d="M462.8 286.8H505V300.4H462.8Z" fill="none" stroke="#111" stroke-width="1.2"/>
<line x1="465" y1="286.8" x2="465" y2="300.4" stroke="#111" stroke-width="0.7"/>
<line x1="502.8" y1="286.8" x2="502.8" y2="300.4" stroke="#111" stroke-width="0.7"/>
<line x1="483.7" y1="183" x2="483.7" y2="308" stroke="#2c2c2c" stroke-width="0.8" stroke-dasharray="16 2 1.6 2"/>
<line x1="436" y1="253" x2="436" y2="265.3" stroke="#111" stroke-width="1"/>
<line x1="455.1" y1="253" x2="455.1" y2="265.3" stroke="#111" stroke-width="1"/>
<path d="M438.6 253L438.6 265.3L452.9 265.3L452.9 253" fill="none" stroke="#111" stroke-width="0.9"/>
<line x1="436" y1="265.3" x2="455.1" y2="265.3" stroke="#111" stroke-width="1.1"/>
<line x1="436" y1="265.3" x2="436" y2="459.8" stroke="#111" stroke-width="1.8"/>
<line x1="455.1" y1="265.3" x2="455.1" y2="459.8" stroke="#111" stroke-width="1.8"/>
<line x1="436" y1="337.5" x2="455.1" y2="337.5" stroke="#111" stroke-width="1.1"/>
<path d="M429 459.7H462.2V480.6H429Z" fill="none" stroke="#111" stroke-width="1.2"/>
<path d="M430.8 459.8L430.8 478.7L460.6 478.7L460.6 459.8" fill="none" stroke="#2c2c2c" stroke-width="0.6"/>
<line x1="445.6" y1="256" x2="445.6" y2="486.5" stroke="#2c2c2c" stroke-width="0.8" stroke-dasharray="16 2 1.6 2"/>
<path d="M493.8 396.4L493.8 423.6L504.8 423.6L504.8 396.4L493.8 396.4" fill="none" stroke="#111" stroke-width="1.2"/>
<path d="M495.3 395.2H503.3V396.4H495.3Z" fill="none" stroke="#111" stroke-width="0.7"/>
<line x1="495.4" y1="397" x2="495.4" y2="423.6" stroke="#2c2c2c" stroke-width="0.55"/>
<line x1="503.2" y1="397" x2="503.2" y2="423.6" stroke="#2c2c2c" stroke-width="0.55"/>
<line x1="491.5" y1="419.4" x2="491.5" y2="432.5" stroke="#111" stroke-width="1"/>
<line x1="506" y1="419.4" x2="506" y2="432.5" stroke="#111" stroke-width="1"/>
<line x1="493.8" y1="423.6" x2="493.8" y2="432.5" stroke="#111" stroke-width="0.9"/>
<line x1="504.8" y1="423.6" x2="504.8" y2="432.5" stroke="#111" stroke-width="0.9"/>
<path d="M487.7 432.5H510.3V442.2H487.7Z" fill="none" stroke="#111" stroke-width="1.2"/>
<line x1="489.4" y1="432.5" x2="489.4" y2="442.2" stroke="#111" stroke-width="0.7"/>
<line x1="508.6" y1="432.5" x2="508.6" y2="442.2" stroke="#111" stroke-width="0.7"/>
<line x1="499.3" y1="391" x2="499.3" y2="447" stroke="#2c2c2c" stroke-width="0.8" stroke-dasharray="16 2 1.6 2"/>
<path d="M134.5 263.4 Q131.9 263.4 130.9 262.1 A29 29 0 1 0 130.9 291.7 Q131.9 291.6 134.5 291.6" fill="none" stroke="#111" stroke-width="1.3"/>
<circle cx="105.9" cy="276.9" r="14.3" fill="none" stroke="#111" stroke-width="1.3"/>
<line x1="83.9" y1="276.9" x2="127.9" y2="276.9" stroke="#2c2c2c" stroke-width="0.8" stroke-dasharray="8 2 2 2 16 2 2 2 8"/>
<line x1="105.9" y1="251.9" x2="105.9" y2="302.9" stroke="#2c2c2c" stroke-width="0.8" stroke-dasharray="11 2 2 2 17 2 2 2 11"/>
<line x1="89.4" y1="104.6" x2="94.9" y2="104.6" stroke="#2c2c2c" stroke-width="0.8"/>
<line x1="94.9" y1="104.6" x2="145.8" y2="159.1" stroke="#2c2c2c" stroke-width="0.8"/>
<circle cx="145.8" cy="159.1" r="1.2" fill="#111"/>
<line x1="129.3" y1="104.6" x2="136" y2="104.6" stroke="#2c2c2c" stroke-width="0.8"/>
<line x1="136" y1="104.6" x2="169.7" y2="193.8" stroke="#2c2c2c" stroke-width="0.8"/>
<circle cx="169.7" cy="193.8" r="1.2" fill="#111"/>
<line x1="170.9" y1="104.6" x2="177.7" y2="104.6" stroke="#2c2c2c" stroke-width="0.8"/>
<line x1="177.7" y1="104.6" x2="248.3" y2="235.5" stroke="#2c2c2c" stroke-width="0.8"/>
<circle cx="248.3" cy="235.5" r="1.2" fill="#111"/>
<line x1="209.1" y1="104.6" x2="215.8" y2="104.6" stroke="#2c2c2c" stroke-width="0.8"/>
<line x1="215.8" y1="104.6" x2="270.9" y2="153.7" stroke="#2c2c2c" stroke-width="0.8"/>
<circle cx="270.9" cy="153.7" r="1.2" fill="#111"/>
<line x1="246.6" y1="104.6" x2="253.6" y2="104.6" stroke="#2c2c2c" stroke-width="0.8"/>
<line x1="253.6" y1="104.6" x2="283" y2="135" stroke="#2c2c2c" stroke-width="0.8"/>
<line x1="282" y1="104.6" x2="289" y2="104.6" stroke="#2c2c2c" stroke-width="0.8"/>
<line x1="289" y1="104.6" x2="314.4" y2="166.9" stroke="#2c2c2c" stroke-width="0.8"/>
<path d="M314.4 166.9L311.55 162.66L313.5 161.87Z" fill="#111"/>
<line x1="94.4" y1="147.8" x2="101.9" y2="147.8" stroke="#2c2c2c" stroke-width="0.8"/>
<line x1="101.9" y1="147.8" x2="236" y2="252" stroke="#2c2c2c" stroke-width="0.8"/>
<path d="M137 178 Q190 212 233 251" fill="none" stroke="#2c2c2c" stroke-width="0.8"/>
<line x1="92.7" y1="191.4" x2="99.7" y2="191.4" stroke="#2c2c2c" stroke-width="0.8"/>
<line x1="99.7" y1="191.4" x2="264.4" y2="460" stroke="#2c2c2c" stroke-width="0.8"/>
<circle cx="264.4" cy="460" r="1.2" fill="#111"/>
<line x1="95.2" y1="348.8" x2="102.3" y2="348.8" stroke="#2c2c2c" stroke-width="0.8"/>
<line x1="102.3" y1="348.8" x2="121.2" y2="290" stroke="#2c2c2c" stroke-width="0.8"/>
<circle cx="121.2" cy="290" r="1.2" fill="#111"/>
<line x1="92.6" y1="390.4" x2="100.7" y2="390.4" stroke="#2c2c2c" stroke-width="0.8"/>
<line x1="100.7" y1="390.4" x2="169.8" y2="361.6" stroke="#2c2c2c" stroke-width="0.8"/>
<circle cx="169.8" cy="361.6" r="1.2" fill="#111"/>
<line x1="92.6" y1="436.6" x2="100.7" y2="436.6" stroke="#2c2c2c" stroke-width="0.8"/>
<line x1="100.7" y1="436.6" x2="145.3" y2="405.6" stroke="#2c2c2c" stroke-width="0.8"/>
<circle cx="145.3" cy="405.6" r="1.2" fill="#111"/>
<line x1="93.5" y1="488.6" x2="101.7" y2="488.6" stroke="#2c2c2c" stroke-width="0.8"/>
<line x1="101.7" y1="488.6" x2="148.6" y2="432" stroke="#2c2c2c" stroke-width="0.8"/>
<circle cx="148.6" cy="432" r="1.2" fill="#111"/>
<line x1="352.6" y1="104.6" x2="360.5" y2="104.6" stroke="#2c2c2c" stroke-width="0.8"/>
<line x1="352.6" y1="104.6" x2="352.6" y2="129.3" stroke="#2c2c2c" stroke-width="0.8"/>
<circle cx="352.6" cy="129.3" r="1.2" fill="#111"/>
<line x1="389.4" y1="104.6" x2="397" y2="104.6" stroke="#2c2c2c" stroke-width="0.8"/>
<line x1="389.4" y1="104.6" x2="389.4" y2="151.3" stroke="#2c2c2c" stroke-width="0.8"/>
<circle cx="389.4" cy="151.3" r="1.2" fill="#111"/>
<line x1="426.5" y1="104.6" x2="434" y2="104.6" stroke="#2c2c2c" stroke-width="0.8"/>
<line x1="426.5" y1="104.6" x2="399.4" y2="181" stroke="#2c2c2c" stroke-width="0.8"/>
<line x1="464.6" y1="104.6" x2="473" y2="104.6" stroke="#2c2c2c" stroke-width="0.8"/>
<line x1="464.6" y1="104.6" x2="397.6" y2="335" stroke="#2c2c2c" stroke-width="0.8"/>
<circle cx="397.6" cy="335" r="1.2" fill="#111"/>
<line x1="508" y1="104.6" x2="516" y2="104.6" stroke="#2c2c2c" stroke-width="0.8"/>
<line x1="508" y1="104.6" x2="401.6" y2="322.2" stroke="#2c2c2c" stroke-width="0.8"/>
<circle cx="401.6" cy="322.2" r="1.2" fill="#111"/>
<line x1="553.7" y1="149.4" x2="562.5" y2="149.4" stroke="#2c2c2c" stroke-width="0.8"/>
<line x1="553.7" y1="149.4" x2="483.7" y2="188" stroke="#2c2c2c" stroke-width="0.8"/>
<circle cx="483.7" cy="188" r="1.2" fill="#111"/>
<line x1="558.6" y1="206" x2="567" y2="206" stroke="#2c2c2c" stroke-width="0.8"/>
<line x1="558.6" y1="206" x2="508" y2="288.4" stroke="#2c2c2c" stroke-width="0.8"/>
<circle cx="508" cy="288.4" r="1.2" fill="#111"/>
<line x1="562" y1="259.2" x2="568" y2="259.2" stroke="#2c2c2c" stroke-width="0.8"/>
<line x1="562" y1="259.2" x2="493.4" y2="313.7" stroke="#2c2c2c" stroke-width="0.8"/>
<circle cx="493.4" cy="313.7" r="1.2" fill="#111"/>
<line x1="557" y1="316.8" x2="567" y2="316.8" stroke="#2c2c2c" stroke-width="0.8"/>
<line x1="557" y1="316.8" x2="447.2" y2="382.8" stroke="#2c2c2c" stroke-width="0.8"/>
<circle cx="447.2" cy="382.8" r="1.2" fill="#111"/>
<line x1="557" y1="371" x2="567" y2="371" stroke="#2c2c2c" stroke-width="0.8"/>
<line x1="557" y1="371" x2="464.7" y2="410" stroke="#2c2c2c" stroke-width="0.8"/>
<circle cx="464.7" cy="410" r="1.2" fill="#111"/>
<line x1="560.7" y1="419.2" x2="568" y2="419.2" stroke="#2c2c2c" stroke-width="0.8"/>
<line x1="560.7" y1="419.2" x2="498.2" y2="409.6" stroke="#2c2c2c" stroke-width="0.8"/>
<circle cx="498.2" cy="409.6" r="1.2" fill="#111"/>
<line x1="560.7" y1="467.6" x2="568" y2="467.6" stroke="#2c2c2c" stroke-width="0.8"/>
<line x1="560.7" y1="467.6" x2="496.7" y2="446.6" stroke="#2c2c2c" stroke-width="0.8"/>
<circle cx="496.7" cy="446.6" r="1.2" fill="#111"/>
<line x1="174.77" y1="78.5" x2="182.37" y2="78.5" stroke="#2c2c2c" stroke-width="0.6"/>
<line x1="160" y1="88.3" x2="190.3" y2="88.3" stroke="#2c2c2c" stroke-width="0.8"/>
<line x1="190.3" y1="88.3" x2="252.4" y2="227.6" stroke="#2c2c2c" stroke-width="0.8"/>
<line x1="327.24" y1="97.5" x2="334.84" y2="97.5" stroke="#2c2c2c" stroke-width="0.6"/>
<line x1="300.4" y1="105.3" x2="348.3" y2="105.3" stroke="#2c2c2c" stroke-width="0.8"/>
<line x1="300.4" y1="101.5" x2="300.4" y2="124.8" stroke="#2c2c2c" stroke-width="0.8"/>
<line x1="348.3" y1="101.5" x2="348.3" y2="124.8" stroke="#2c2c2c" stroke-width="0.8"/>
<path d="M300.4 105.3L306.4 104.25L306.4 106.35Z" fill="#111"/>
<path d="M348.3 105.3L342.3 106.35L342.3 104.25Z" fill="#111"/>
<line x1="388.97" y1="88.3" x2="396.57" y2="88.3" stroke="#2c2c2c" stroke-width="0.6"/>
<line x1="376" y1="95.4" x2="399" y2="95.4" stroke="#2c2c2c" stroke-width="0.8"/>
<line x1="376" y1="95.4" x2="333.2" y2="168.4" stroke="#2c2c2c" stroke-width="0.8"/>
<path d="M333.2 168.4L334.82 163.56L336.64 164.62Z" fill="#111"/>
<line x1="290.64" y1="162.9" x2="298.24" y2="162.9" stroke="#2c2c2c" stroke-width="0.6"/>
<line x1="387.34" y1="165.2" x2="394.94" y2="165.2" stroke="#2c2c2c" stroke-width="0.6"/>
<line x1="366" y1="172.6" x2="402" y2="172.6" stroke="#2c2c2c" stroke-width="0.8"/>
<path d="M371.8 172.6L366.3 173.65L366.3 171.55Z" fill="#111"/>
<path d="M395.9 172.6L401.4 171.55L401.4 173.65Z" fill="#111"/>
<line x1="387.84" y1="236.2" x2="395.44" y2="236.2" stroke="#2c2c2c" stroke-width="0.6"/>
<line x1="366" y1="243.8" x2="402" y2="243.8" stroke="#2c2c2c" stroke-width="0.8"/>
<path d="M371.8 243.8L366.3 244.85L366.3 242.75Z" fill="#111"/>
<path d="M395.9 243.8L401.4 242.75L401.4 244.85Z" fill="#111"/>
<line x1="486.14" y1="201.3" x2="493.74" y2="201.3" stroke="#2c2c2c" stroke-width="0.6"/>
<line x1="469.5" y1="208.1" x2="497.9" y2="208.1" stroke="#2c2c2c" stroke-width="0.8"/>
<path d="M469.5 208.1L475 207.05L475 209.15Z" fill="#111"/>
<path d="M497.9 208.1L492.4 209.15L492.4 207.05Z" fill="#111"/>
<line x1="486.44" y1="263.2" x2="494.04" y2="263.2" stroke="#2c2c2c" stroke-width="0.6"/>
<line x1="469.5" y1="271" x2="497.9" y2="271" stroke="#2c2c2c" stroke-width="0.8"/>
<path d="M469.5 271L475 269.95L475 272.05Z" fill="#111"/>
<path d="M497.9 271L492.4 272.05L492.4 269.95Z" fill="#111"/>
<line x1="171.87" y1="271.32" x2="178.86" y2="271.32" stroke="#2c2c2c" stroke-width="0.6"/>
<line x1="146.6" y1="278.5" x2="193.5" y2="278.5" stroke="#2c2c2c" stroke-width="0.8"/>
<path d="M160.3 278.5L154.8 279.55L154.8 277.45Z" fill="#111"/>
<path d="M179.2 278.5L184.7 277.45L184.7 279.55Z" fill="#111"/>
<line x1="310" y1="187.8" x2="344" y2="187.8" stroke="#2c2c2c" stroke-width="0.8"/>
<path d="M318.5 187.8L313 188.85L313 186.75Z" fill="#111"/>
<path d="M330.8 187.8L336.3 186.75L336.3 188.85Z" fill="#111"/>
<line x1="244.3" y1="259.4" x2="286" y2="259.4" stroke="#2c2c2c" stroke-width="0.8"/>
<path d="M255.4 259.4L250.4 260.45L250.4 258.35Z" fill="#111"/>
<path d="M274.6 259.4L279.6 258.35L279.6 260.45Z" fill="#111"/>
<line x1="236.9" y1="283" x2="252.5" y2="283" stroke="#2c2c2c" stroke-width="0.8"/>
<line x1="277" y1="283" x2="292.8" y2="283" stroke="#2c2c2c" stroke-width="0.8"/>
<path d="M236.9 283L242.4 281.95L242.4 284.05Z" fill="#111"/>
<path d="M292.8 283L287.3 284.05L287.3 281.95Z" fill="#111"/>
<line x1="312.78" y1="362.28" x2="321" y2="362.28" stroke="#2c2c2c" stroke-width="0.6"/>
<line x1="290.6" y1="369.8" x2="321.4" y2="369.8" stroke="#2c2c2c" stroke-width="0.8"/>
<line x1="290.6" y1="369.8" x2="283.4" y2="283" stroke="#2c2c2c" stroke-width="0.8"/>
<circle cx="224.2" cy="405.2" r="0.9" fill="#111"/>
<line x1="514.4" y1="139.4" x2="607.5" y2="139.4" stroke="#2c2c2c" stroke-width="0.8"/>
<line x1="514.4" y1="481.3" x2="607.5" y2="481.3" stroke="#2c2c2c" stroke-width="0.8"/>
<line x1="601.9" y1="139.4" x2="601.9" y2="481.3" stroke="#2c2c2c" stroke-width="0.8"/>
<path d="M601.9 139.4L602.9 145.9L600.9 145.9Z" fill="#111"/>
<path d="M601.9 481.3L600.9 474.8L602.9 474.8Z" fill="#111"/>
<path d="M72.2 177.6L61.8 177.6L61.8 192.6" fill="none" stroke="#111" stroke-width="1.7"/>
<path d="M61.8 203.4L59.4 191.1L64.2 191.1Z" fill="#111"/>
<path d="M72.8 255L61.8 255L61.8 270" fill="none" stroke="#111" stroke-width="1.7"/>
<path d="M61.8 280.8L59.4 268.5L64.2 268.5Z" fill="#111"/>
<path d="M581.4 178L592 178L592 193" fill="none" stroke="#111" stroke-width="1.7"/>
<path d="M592 203.4L589.6 191.5L594.4 191.5Z" fill="#111"/>
<path d="M581.4 255L592 255L592 270" fill="none" stroke="#111" stroke-width="1.7"/>
<path d="M592 280.2L589.6 268.5L594.4 268.5Z" fill="#111"/>
<line x1="125" y1="253" x2="134.5" y2="253" stroke="#111" stroke-width="1.3"/>
<line x1="514.4" y1="253" x2="524.4" y2="253" stroke="#111" stroke-width="1.3"/>
<g filter="url(#gray)">
<text font-size="13.2" text-anchor="start" font-style="italic" fill="#555" transform="translate(314.8 63.8) scale(0.92 1)">B–B</text>
<text font-size="10.6" text-anchor="start" font-style="italic" fill="#484848" transform="translate(83.2 108.6) scale(0.8 1)">1</text>
<text font-size="10.6" text-anchor="start" font-style="italic" fill="#484848" transform="translate(122.6 108.6) scale(0.8 1)">2</text>
<text font-size="10.6" text-anchor="start" font-style="italic" fill="#484848" transform="translate(163.3 108.6) scale(0.8 1)">3</text>
<text font-size="10.6" text-anchor="start" font-style="italic" fill="#484848" transform="translate(203 108.6) scale(0.8 1)">4</text>
<text font-size="10.6" text-anchor="start" font-style="italic" fill="#484848" transform="translate(240.3 108.6) scale(0.8 1)">5</text>
<text font-size="10.6" text-anchor="start" font-style="italic" fill="#484848" transform="translate(276 108.6) scale(0.8 1)">6</text>
<text font-size="10.6" text-anchor="start" font-style="italic" fill="#484848" transform="translate(84 151.6) scale(0.8 1)">24</text>
<text font-size="10.6" text-anchor="start" font-style="italic" fill="#484848" transform="translate(81.4 195.6) scale(0.8 1)">23</text>
<text font-size="10.6" text-anchor="start" font-style="italic" fill="#484848" transform="translate(83.8 353) scale(0.8 1)">22</text>
<text font-size="10.6" text-anchor="start" font-style="italic" fill="#484848" transform="translate(82.4 394.6) scale(0.8 1)">21</text>
<text font-size="10.6" text-anchor="start" font-style="italic" fill="#484848" transform="translate(83 440.8) scale(0.8 1)">20</text>
<text font-size="10.6" text-anchor="start" font-style="italic" fill="#484848" transform="translate(84.6 492.8) scale(0.8 1)">19</text>
<text font-size="10.6" text-anchor="start" font-style="italic" fill="#484848" transform="translate(361.6 108.6) scale(0.8 1)">7</text>
<text font-size="10.6" text-anchor="start" font-style="italic" fill="#484848" transform="translate(398.4 108.6) scale(0.8 1)">8</text>
<text font-size="10.6" text-anchor="start" font-style="italic" fill="#484848" transform="translate(435.6 108.6) scale(0.8 1)">9</text>
<text font-size="10.6" text-anchor="start" font-style="italic" fill="#484848" transform="translate(473.6 108.6) scale(0.8 1)">10</text>
<text font-size="10.6" text-anchor="start" font-style="italic" fill="#484848" transform="translate(517 108.6) scale(0.8 1)">11</text>
<text font-size="10.6" text-anchor="start" font-style="italic" fill="#484848" transform="translate(563.4 153.4) scale(0.8 1)">12</text>
<text font-size="10.6" text-anchor="start" font-style="italic" fill="#484848" transform="translate(568.4 210.2) scale(0.8 1)">13</text>
<text font-size="10.6" text-anchor="start" font-style="italic" fill="#484848" transform="translate(569.4 263.4) scale(0.8 1)">14</text>
<text font-size="10.6" text-anchor="start" font-style="italic" fill="#484848" transform="translate(568.6 321) scale(0.8 1)">15</text>
<text font-size="10.6" text-anchor="start" font-style="italic" fill="#484848" transform="translate(568.6 375.2) scale(0.8 1)">16</text>
<text font-size="10.6" text-anchor="start" font-style="italic" fill="#484848" transform="translate(569.6 423.4) scale(0.8 1)">17</text>
<text font-size="10.6" text-anchor="start" font-style="italic" fill="#484848" transform="translate(569.6 471.8) scale(0.8 1)">18</text>
<text font-size="10.75" font-family="'DejaVu Sans', sans-serif" font-style="italic" fill="#262626" transform="translate(163.2 84.5) scale(0.78 1)">⌀</text>
<text font-size="9.6" text-anchor="start" font-style="italic" fill="#262626" transform="translate(169.6 83.6) scale(0.8 1)">6</text>
<text font-size="6.2" text-anchor="start" font-style="italic" fill="#262626" transform="translate(174.97 77.3) scale(0.9 1)">H7</text>
<text font-size="6.2" text-anchor="start" font-style="italic" fill="#262626" transform="translate(175.17 83.9) scale(0.9 1)">f6</text>
<text font-size="10.75" font-family="'DejaVu Sans', sans-serif" font-style="italic" fill="#262626" transform="translate(311.4 103.5) scale(0.78 1)">⌀</text>
<text font-size="9.6" text-anchor="start" font-style="italic" fill="#262626" transform="translate(317.8 102.6) scale(0.8 1)">20</text>
<text font-size="6.2" text-anchor="start" font-style="italic" fill="#262626" transform="translate(327.44 96.3) scale(0.9 1)">H7</text>
<text font-size="6.2" text-anchor="start" font-style="italic" fill="#262626" transform="translate(327.64 102.9) scale(0.9 1)">k6</text>
<text font-size="10.75" font-family="'DejaVu Sans', sans-serif" font-style="italic" fill="#262626" transform="translate(377.4 94.3) scale(0.78 1)">⌀</text>
<text font-size="9.6" text-anchor="start" font-style="italic" fill="#262626" transform="translate(383.8 93.4) scale(0.8 1)">5</text>
<text font-size="6.2" text-anchor="start" font-style="italic" fill="#262626" transform="translate(389.17 87.1) scale(0.9 1)">H8</text>
<text font-size="6.2" text-anchor="start" font-style="italic" fill="#262626" transform="translate(389.37 93.7) scale(0.9 1)">e7</text>
<text font-size="10.75" font-family="'DejaVu Sans', sans-serif" font-style="italic" fill="#262626" transform="translate(274.8 168.9) scale(0.78 1)">⌀</text>
<text font-size="9.6" text-anchor="start" font-style="italic" fill="#262626" transform="translate(281.2 168) scale(0.8 1)">14</text>
<text font-size="6.2" text-anchor="start" font-style="italic" fill="#262626" transform="translate(290.84 161.7) scale(0.9 1)">H7</text>
<text font-size="6.2" text-anchor="start" font-style="italic" fill="#262626" transform="translate(291.04 168.3) scale(0.9 1)">k6</text>
<text font-size="10.75" font-family="'DejaVu Sans', sans-serif" font-style="italic" fill="#262626" transform="translate(371.5 171.2) scale(0.78 1)">⌀</text>
<text font-size="9.6" text-anchor="start" font-style="italic" fill="#262626" transform="translate(377.9 170.3) scale(0.8 1)">10</text>
<text font-size="6.2" text-anchor="start" font-style="italic" fill="#262626" transform="translate(387.54 164) scale(0.9 1)">H7</text>
<text font-size="6.2" text-anchor="start" font-style="italic" fill="#262626" transform="translate(387.74 170.6) scale(0.9 1)">k6</text>
<text font-size="10.75" font-family="'DejaVu Sans', sans-serif" font-style="italic" fill="#262626" transform="translate(372 242.2) scale(0.78 1)">⌀</text>
<text font-size="9.6" text-anchor="start" font-style="italic" fill="#262626" transform="translate(378.4 241.3) scale(0.8 1)">10</text>
<text font-size="6.2" text-anchor="start" font-style="italic" fill="#262626" transform="translate(388.04 235) scale(0.9 1)">H7</text>
<text font-size="6.2" text-anchor="start" font-style="italic" fill="#262626" transform="translate(388.24 241.6) scale(0.9 1)">f6</text>
<text font-size="10.75" font-family="'DejaVu Sans', sans-serif" font-style="italic" fill="#262626" transform="translate(470.3 207.3) scale(0.78 1)">⌀</text>
<text font-size="9.6" text-anchor="start" font-style="italic" fill="#262626" transform="translate(476.7 206.4) scale(0.8 1)">12</text>
<text font-size="6.2" text-anchor="start" font-style="italic" fill="#262626" transform="translate(486.34 200.1) scale(0.9 1)">H7</text>
<text font-size="6.2" text-anchor="start" font-style="italic" fill="#262626" transform="translate(486.54 206.7) scale(0.9 1)">f6</text>
<text font-size="10.75" font-family="'DejaVu Sans', sans-serif" font-style="italic" fill="#262626" transform="translate(470.6 269.2) scale(0.78 1)">⌀</text>
<text font-size="9.6" text-anchor="start" font-style="italic" fill="#262626" transform="translate(477 268.3) scale(0.8 1)">12</text>
<text font-size="6.2" text-anchor="start" font-style="italic" fill="#262626" transform="translate(486.64 262) scale(0.9 1)">H7</text>
<text font-size="6.2" text-anchor="start" font-style="italic" fill="#262626" transform="translate(486.84 268.6) scale(0.9 1)">k6</text>
<text font-size="9.86" font-family="'DejaVu Sans', sans-serif" font-style="italic" fill="#262626" transform="translate(161.28 276.82) scale(0.78 1)">⌀</text>
<text font-size="8.8" text-anchor="start" font-style="italic" fill="#262626" transform="translate(167.15 276) scale(0.8 1)">6</text>
<text font-size="5.6" text-anchor="start" font-style="italic" fill="#262626" transform="translate(172.07 270.23) scale(0.9 1)">H7</text>
<text font-size="5.6" text-anchor="start" font-style="italic" fill="#262626" transform="translate(172.27 276.27) scale(0.9 1)">f6</text>
<text font-size="10.4" text-anchor="start" font-style="italic" fill="#262626" transform="translate(295.6 367.8) scale(0.8 1)">23.6</text>
<text font-size="6.2" text-anchor="start" font-style="italic" fill="#262626" transform="translate(312.98 360.98) scale(0.9 1)">H7</text>
<text font-size="6.2" text-anchor="start" font-style="italic" fill="#262626" transform="translate(313.18 368.12) scale(0.9 1)">m6</text>
<text font-size="9.8" text-anchor="middle" font-style="italic" fill="#484848" transform="translate(599.6 311) rotate(-90) scale(0.8 1)">144</text>
<text font-size="9" text-anchor="middle" font-style="normal" fill="#333" transform="translate(64.8 170.4) scale(0.72 1)" font-family="'Liberation Serif', serif">I</text>
<text font-size="9" text-anchor="middle" font-style="normal" fill="#333" transform="translate(65.4 247.8) scale(0.72 1)" font-family="'Liberation Serif', serif">II</text>
<text font-size="9" text-anchor="middle" font-style="normal" fill="#333" transform="translate(589.6 170.4) scale(0.72 1)" font-family="'Liberation Serif', serif">I</text>
<text font-size="9" text-anchor="middle" font-style="normal" fill="#333" transform="translate(589.6 247.8) scale(0.72 1)" font-family="'Liberation Serif', serif">II</text>
<text font-size="9.4" text-anchor="start" font-style="italic" fill="#333" transform="translate(124.6 250.2) scale(0.8 1)">A</text>
<text font-size="9.4" text-anchor="start" font-style="italic" fill="#333" transform="translate(518.8 250) scale(0.8 1)">A</text>
</g>
</svg>
</body></html>
